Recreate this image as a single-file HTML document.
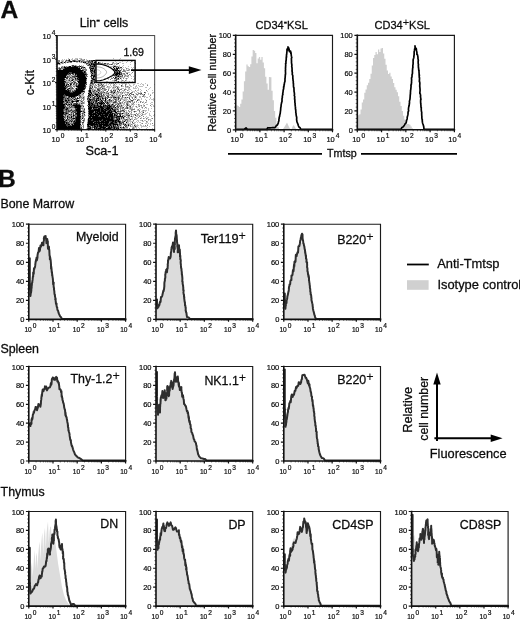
<!DOCTYPE html>
<html><head><meta charset="utf-8"><title>Figure</title>
<style>
html,body{margin:0;padding:0;background:#fff;}
body{width:520px;height:619px;overflow:hidden;}
svg{display:block;font-family:"Liberation Sans",sans-serif;}
text{fill:#0c0c0c;stroke:#0c0c0c;stroke-width:0.28px;}
.tk{stroke-width:0.2px;}
</style></head><body>
<svg width="520" height="619" viewBox="0 0 520 619">
<rect width="520" height="619" fill="#fff"/>
<g opacity="0.999">
<text x="0.4" y="17.5" font-size="24.6" font-weight="bold" fill="#000" stroke="#000" stroke-width="0.7">A</text>
<text x="-1.9" y="187.2" font-size="24.6" font-weight="bold" fill="#000" stroke="#000" stroke-width="0.7">B</text>
<text x="0.4" y="208" font-size="12.4">Bone Marrow</text>
<text x="0.4" y="353" font-size="12.4">Spleen</text>
<text x="0.6" y="495.5" font-size="12.4">Thymus</text>
<path d="M68 58h1v1h-1zM72 58h1v1h-1zM75 58h3v1h-3zM79 58h3v1h-3zM113 58h1v1h-1zM120 58h1v1h-1zM62 59h1v1h-1zM64 59h1v1h-1zM66 59h1v1h-1zM68 59h1v1h-1zM71 59h2v1h-2zM74 59h3v1h-3zM80 59h1v1h-1zM82 59h2v1h-2zM86 59h1v1h-1zM119 59h1v1h-1zM61 60h3v1h-3zM65 60h1v1h-1zM70 60h1v1h-1zM76 60h2v1h-2zM81 60h1v1h-1zM84 60h1v1h-1zM86 60h1v1h-1zM88 60h1v1h-1zM114 60h2v1h-2zM117 60h1v1h-1zM61 61h1v1h-1zM63 61h1v1h-1zM66 61h2v1h-2zM80 61h1v1h-1zM93 61h1v1h-1zM115 61h1v1h-1zM122 61h1v1h-1zM127 61h1v1h-1zM132 61h1v1h-1zM59 62h1v1h-1zM63 62h1v1h-1zM66 62h1v1h-1zM69 62h1v1h-1zM76 62h2v1h-2zM79 62h2v1h-2zM82 62h1v1h-1zM86 62h2v1h-2zM93 62h1v1h-1zM100 62h1v1h-1zM102 62h1v1h-1zM112 62h1v1h-1zM116 62h1v1h-1zM119 62h2v1h-2zM126 62h1v1h-1zM130 62h1v1h-1zM134 62h1v1h-1zM60 63h2v1h-2zM63 63h1v1h-1zM65 63h1v1h-1zM84 63h2v1h-2zM103 63h1v1h-1zM106 63h1v1h-1zM113 63h4v1h-4zM122 63h2v1h-2zM58 64h1v1h-1zM60 64h1v1h-1zM87 64h1v1h-1zM102 64h5v1h-5zM108 64h1v1h-1zM114 64h1v1h-1zM117 64h1v1h-1zM130 64h1v1h-1zM71 65h1v1h-1zM74 65h1v1h-1zM76 65h1v1h-1zM81 65h1v1h-1zM83 65h1v1h-1zM108 65h1v1h-1zM113 65h3v1h-3zM119 65h1v1h-1zM123 65h1v1h-1zM61 66h1v1h-1zM63 66h1v1h-1zM65 66h1v1h-1zM67 66h1v1h-1zM71 66h1v1h-1zM83 66h1v1h-1zM89 66h1v1h-1zM95 66h1v1h-1zM107 66h2v1h-2zM110 66h3v1h-3zM118 66h2v1h-2zM122 66h1v1h-1zM128 66h1v1h-1zM58 67h1v1h-1zM85 67h1v1h-1zM110 67h2v1h-2zM114 67h2v1h-2zM117 67h1v1h-1zM119 67h1v1h-1zM123 67h1v1h-1zM125 67h1v1h-1zM131 67h1v1h-1zM133 67h1v1h-1zM135 67h1v1h-1zM57 68h1v1h-1zM82 68h1v1h-1zM84 68h1v1h-1zM111 68h3v1h-3zM115 68h1v1h-1zM120 68h3v1h-3zM127 68h2v1h-2zM132 68h1v1h-1zM58 69h1v1h-1zM61 69h2v1h-2zM112 69h1v1h-1zM119 69h1v1h-1zM124 69h1v1h-1zM126 69h1v1h-1zM128 69h1v1h-1zM135 69h1v1h-1zM141 69h1v1h-1zM84 70h1v1h-1zM113 70h1v1h-1zM121 70h1v1h-1zM125 70h2v1h-2zM129 70h1v1h-1zM132 70h1v1h-1zM133 71h1v1h-1zM86 72h1v1h-1zM90 72h1v1h-1zM114 72h1v1h-1zM125 72h5v1h-5zM90 73h1v1h-1zM95 73h1v1h-1zM122 73h1v1h-1zM131 73h1v1h-1zM74 74h1v1h-1zM122 74h2v1h-2zM125 74h1v1h-1zM127 74h1v1h-1zM130 74h1v1h-1zM67 75h2v1h-2zM70 75h1v1h-1zM72 75h2v1h-2zM95 75h1v1h-1zM112 75h1v1h-1zM120 75h2v1h-2zM124 75h1v1h-1zM126 75h2v1h-2zM130 75h1v1h-1zM135 75h1v1h-1zM66 76h1v1h-1zM70 76h2v1h-2zM92 76h1v1h-1zM110 76h3v1h-3zM114 76h1v1h-1zM125 76h2v1h-2zM128 76h1v1h-1zM131 76h1v1h-1zM133 76h1v1h-1zM69 77h1v1h-1zM76 77h1v1h-1zM86 77h1v1h-1zM92 77h1v1h-1zM95 77h1v1h-1zM111 77h1v1h-1zM117 77h2v1h-2zM120 77h5v1h-5zM128 77h1v1h-1zM70 78h1v1h-1zM73 78h2v1h-2zM95 78h1v1h-1zM107 78h2v1h-2zM121 78h1v1h-1zM125 78h1v1h-1zM127 78h1v1h-1zM131 78h1v1h-1zM134 78h1v1h-1zM66 79h3v1h-3zM70 79h2v1h-2zM74 79h1v1h-1zM91 79h1v1h-1zM95 79h1v1h-1zM108 79h1v1h-1zM114 79h2v1h-2zM119 79h1v1h-1zM121 79h1v1h-1zM126 79h1v1h-1zM133 79h1v1h-1zM65 80h1v1h-1zM67 80h1v1h-1zM70 80h1v1h-1zM73 80h2v1h-2zM90 80h1v1h-1zM112 80h2v1h-2zM121 80h1v1h-1zM123 80h1v1h-1zM126 80h1v1h-1zM66 81h4v1h-4zM71 81h1v1h-1zM75 81h1v1h-1zM86 81h1v1h-1zM90 81h1v1h-1zM95 81h1v1h-1zM106 81h2v1h-2zM114 81h1v1h-1zM116 81h2v1h-2zM121 81h1v1h-1zM124 81h1v1h-1zM129 81h1v1h-1zM132 81h1v1h-1zM69 82h2v1h-2zM73 82h1v1h-1zM76 82h1v1h-1zM93 82h1v1h-1zM112 82h1v1h-1zM114 82h1v1h-1zM116 82h1v1h-1zM120 82h1v1h-1zM65 83h1v1h-1zM72 83h1v1h-1zM75 83h1v1h-1zM98 83h2v1h-2zM104 83h1v1h-1zM106 83h1v1h-1zM110 83h1v1h-1zM112 83h1v1h-1zM121 83h6v1h-6zM128 83h1v1h-1zM137 83h2v1h-2zM141 83h1v1h-1zM145 83h1v1h-1zM65 84h1v1h-1zM75 84h1v1h-1zM77 84h1v1h-1zM89 84h1v1h-1zM91 84h1v1h-1zM97 84h1v1h-1zM99 84h2v1h-2zM102 84h1v1h-1zM106 84h1v1h-1zM108 84h1v1h-1zM110 84h1v1h-1zM113 84h1v1h-1zM116 84h1v1h-1zM119 84h1v1h-1zM122 84h1v1h-1zM126 84h1v1h-1zM129 84h1v1h-1zM133 84h2v1h-2zM140 84h1v1h-1zM142 84h2v1h-2zM147 84h1v1h-1zM154 84h1v1h-1zM67 85h1v1h-1zM71 85h4v1h-4zM89 85h1v1h-1zM92 85h4v1h-4zM101 85h1v1h-1zM103 85h4v1h-4zM110 85h1v1h-1zM114 85h2v1h-2zM122 85h1v1h-1zM129 85h2v1h-2zM133 85h1v1h-1zM136 85h1v1h-1zM138 85h1v1h-1zM143 85h1v1h-1zM75 86h1v1h-1zM86 86h1v1h-1zM91 86h1v1h-1zM95 86h1v1h-1zM97 86h1v1h-1zM99 86h1v1h-1zM108 86h2v1h-2zM111 86h1v1h-1zM113 86h3v1h-3zM117 86h2v1h-2zM122 86h2v1h-2zM126 86h1v1h-1zM128 86h1v1h-1zM130 86h2v1h-2zM135 86h2v1h-2zM139 86h4v1h-4zM69 87h1v1h-1zM74 87h1v1h-1zM76 87h1v1h-1zM91 87h1v1h-1zM98 87h2v1h-2zM102 87h3v1h-3zM106 87h5v1h-5zM112 87h1v1h-1zM114 87h1v1h-1zM118 87h2v1h-2zM125 87h4v1h-4zM133 87h1v1h-1zM135 87h1v1h-1zM137 87h1v1h-1zM145 87h2v1h-2zM150 87h1v1h-1zM67 88h1v1h-1zM92 88h2v1h-2zM95 88h2v1h-2zM105 88h1v1h-1zM108 88h2v1h-2zM112 88h3v1h-3zM116 88h1v1h-1zM121 88h3v1h-3zM125 88h1v1h-1zM128 88h2v1h-2zM133 88h4v1h-4zM138 88h1v1h-1zM149 88h1v1h-1zM66 89h1v1h-1zM69 89h1v1h-1zM72 89h4v1h-4zM91 89h1v1h-1zM93 89h3v1h-3zM100 89h1v1h-1zM102 89h2v1h-2zM111 89h1v1h-1zM113 89h5v1h-5zM119 89h1v1h-1zM126 89h1v1h-1zM128 89h3v1h-3zM138 89h1v1h-1zM140 89h1v1h-1zM148 89h1v1h-1zM71 90h1v1h-1zM73 90h1v1h-1zM84 90h1v1h-1zM91 90h1v1h-1zM93 90h1v1h-1zM96 90h1v1h-1zM100 90h1v1h-1zM102 90h2v1h-2zM117 90h1v1h-1zM122 90h2v1h-2zM128 90h1v1h-1zM131 90h1v1h-1zM137 90h2v1h-2zM141 90h1v1h-1zM152 90h1v1h-1zM71 91h1v1h-1zM91 91h1v1h-1zM95 91h1v1h-1zM98 91h1v1h-1zM100 91h1v1h-1zM102 91h1v1h-1zM106 91h1v1h-1zM110 91h1v1h-1zM113 91h1v1h-1zM118 91h2v1h-2zM121 91h1v1h-1zM123 91h1v1h-1zM125 91h1v1h-1zM129 91h1v1h-1zM132 91h3v1h-3zM136 91h1v1h-1zM140 91h1v1h-1zM147 91h1v1h-1zM83 92h1v1h-1zM88 92h1v1h-1zM92 92h1v1h-1zM96 92h2v1h-2zM99 92h1v1h-1zM105 92h1v1h-1zM107 92h3v1h-3zM115 92h3v1h-3zM119 92h1v1h-1zM121 92h1v1h-1zM123 92h4v1h-4zM134 92h1v1h-1zM137 92h2v1h-2zM140 92h2v1h-2zM152 92h2v1h-2zM81 93h2v1h-2zM92 93h1v1h-1zM102 93h4v1h-4zM111 93h2v1h-2zM114 93h5v1h-5zM120 93h2v1h-2zM124 93h1v1h-1zM127 93h3v1h-3zM135 93h2v1h-2zM145 93h1v1h-1zM148 93h1v1h-1zM152 93h1v1h-1zM80 94h2v1h-2zM83 94h1v1h-1zM93 94h1v1h-1zM104 94h4v1h-4zM109 94h1v1h-1zM111 94h4v1h-4zM117 94h1v1h-1zM119 94h3v1h-3zM126 94h1v1h-1zM138 94h1v1h-1zM141 94h1v1h-1zM143 94h1v1h-1zM148 94h1v1h-1zM150 94h1v1h-1zM81 95h3v1h-3zM94 95h2v1h-2zM100 95h1v1h-1zM109 95h1v1h-1zM113 95h6v1h-6zM120 95h1v1h-1zM124 95h2v1h-2zM129 95h1v1h-1zM133 95h3v1h-3zM137 95h1v1h-1zM144 95h1v1h-1zM67 96h1v1h-1zM78 96h1v1h-1zM81 96h4v1h-4zM104 96h1v1h-1zM110 96h2v1h-2zM115 96h3v1h-3zM119 96h1v1h-1zM129 96h3v1h-3zM133 96h2v1h-2zM136 96h1v1h-1zM139 96h2v1h-2zM144 96h2v1h-2zM149 96h1v1h-1zM67 97h1v1h-1zM70 97h1v1h-1zM82 97h1v1h-1zM84 97h1v1h-1zM87 97h1v1h-1zM89 97h1v1h-1zM91 97h1v1h-1zM95 97h1v1h-1zM103 97h2v1h-2zM112 97h1v1h-1zM121 97h1v1h-1zM123 97h2v1h-2zM126 97h1v1h-1zM128 97h1v1h-1zM131 97h1v1h-1zM134 97h1v1h-1zM136 97h1v1h-1zM139 97h2v1h-2zM144 97h1v1h-1zM146 97h2v1h-2zM150 97h1v1h-1zM71 98h1v1h-1zM74 98h1v1h-1zM80 98h2v1h-2zM84 98h1v1h-1zM90 98h2v1h-2zM101 98h1v1h-1zM106 98h1v1h-1zM110 98h2v1h-2zM115 98h1v1h-1zM117 98h1v1h-1zM120 98h1v1h-1zM122 98h1v1h-1zM124 98h3v1h-3zM134 98h1v1h-1zM136 98h1v1h-1zM141 98h1v1h-1zM150 98h1v1h-1zM153 98h1v1h-1zM72 99h1v1h-1zM77 99h1v1h-1zM79 99h1v1h-1zM84 99h1v1h-1zM95 99h1v1h-1zM101 99h1v1h-1zM108 99h1v1h-1zM112 99h2v1h-2zM117 99h1v1h-1zM121 99h7v1h-7zM129 99h1v1h-1zM134 99h1v1h-1zM137 99h1v1h-1zM139 99h1v1h-1zM141 99h1v1h-1zM145 99h1v1h-1zM149 99h1v1h-1zM151 99h4v1h-4zM73 100h2v1h-2zM81 100h2v1h-2zM87 100h1v1h-1zM106 100h1v1h-1zM112 100h1v1h-1zM117 100h3v1h-3zM123 100h1v1h-1zM125 100h2v1h-2zM128 100h1v1h-1zM130 100h1v1h-1zM133 100h1v1h-1zM138 100h2v1h-2zM153 100h1v1h-1zM70 101h1v1h-1zM80 101h1v1h-1zM84 101h1v1h-1zM108 101h1v1h-1zM112 101h2v1h-2zM122 101h2v1h-2zM125 101h2v1h-2zM131 101h1v1h-1zM134 101h1v1h-1zM141 101h1v1h-1zM143 101h1v1h-1zM146 101h1v1h-1zM154 101h1v1h-1zM65 102h1v1h-1zM73 102h1v1h-1zM77 102h5v1h-5zM84 102h1v1h-1zM94 102h1v1h-1zM104 102h1v1h-1zM110 102h3v1h-3zM117 102h1v1h-1zM121 102h1v1h-1zM125 102h2v1h-2zM128 102h2v1h-2zM132 102h2v1h-2zM136 102h1v1h-1zM138 102h1v1h-1zM143 102h1v1h-1zM146 102h1v1h-1zM151 102h2v1h-2zM67 103h1v1h-1zM69 103h1v1h-1zM72 103h1v1h-1zM78 103h1v1h-1zM80 103h1v1h-1zM84 103h1v1h-1zM109 103h2v1h-2zM112 103h1v1h-1zM114 103h3v1h-3zM121 103h4v1h-4zM128 103h1v1h-1zM131 103h2v1h-2zM144 103h1v1h-1zM150 103h1v1h-1zM72 104h1v1h-1zM80 104h3v1h-3zM110 104h1v1h-1zM117 104h1v1h-1zM119 104h3v1h-3zM123 104h2v1h-2zM128 104h2v1h-2zM131 104h1v1h-1zM133 104h2v1h-2zM136 104h1v1h-1zM139 104h1v1h-1zM143 104h1v1h-1zM146 104h2v1h-2zM151 104h2v1h-2zM83 105h1v1h-1zM102 105h1v1h-1zM118 105h1v1h-1zM120 105h1v1h-1zM122 105h2v1h-2zM125 105h2v1h-2zM129 105h3v1h-3zM133 105h1v1h-1zM138 105h3v1h-3zM143 105h1v1h-1zM153 105h1v1h-1zM66 106h3v1h-3zM70 106h1v1h-1zM82 106h1v1h-1zM122 106h1v1h-1zM124 106h1v1h-1zM127 106h1v1h-1zM132 106h2v1h-2zM135 106h1v1h-1zM138 106h1v1h-1zM141 106h1v1h-1zM143 106h2v1h-2zM151 106h1v1h-1zM153 106h2v1h-2zM81 107h3v1h-3zM116 107h1v1h-1zM121 107h1v1h-1zM125 107h1v1h-1zM128 107h2v1h-2zM131 107h2v1h-2zM136 107h2v1h-2zM141 107h1v1h-1zM146 107h1v1h-1zM70 108h5v1h-5zM83 108h1v1h-1zM92 108h1v1h-1zM113 108h1v1h-1zM118 108h2v1h-2zM121 108h1v1h-1zM123 108h2v1h-2zM128 108h2v1h-2zM131 108h2v1h-2zM134 108h1v1h-1zM139 108h1v1h-1zM142 108h1v1h-1zM144 108h1v1h-1zM146 108h1v1h-1zM148 108h1v1h-1zM151 108h1v1h-1zM69 109h2v1h-2zM72 109h3v1h-3zM82 109h2v1h-2zM122 109h2v1h-2zM129 109h2v1h-2zM137 109h1v1h-1zM140 109h1v1h-1zM148 109h1v1h-1zM81 110h2v1h-2zM116 110h2v1h-2zM124 110h3v1h-3zM132 110h1v1h-1zM137 110h2v1h-2zM142 110h1v1h-1zM144 110h3v1h-3zM148 110h1v1h-1zM64 111h1v1h-1zM71 111h1v1h-1zM116 111h1v1h-1zM122 111h1v1h-1zM126 111h1v1h-1zM128 111h1v1h-1zM130 111h2v1h-2zM133 111h1v1h-1zM136 111h1v1h-1zM141 111h3v1h-3zM145 111h1v1h-1zM150 111h1v1h-1zM153 111h2v1h-2zM69 112h2v1h-2zM82 112h1v1h-1zM85 112h1v1h-1zM113 112h2v1h-2zM117 112h3v1h-3zM123 112h3v1h-3zM127 112h1v1h-1zM129 112h1v1h-1zM134 112h1v1h-1zM139 112h2v1h-2zM142 112h1v1h-1zM147 112h1v1h-1zM70 113h1v1h-1zM72 113h1v1h-1zM81 113h1v1h-1zM84 113h1v1h-1zM124 113h2v1h-2zM127 113h1v1h-1zM130 113h2v1h-2zM138 113h2v1h-2zM141 113h2v1h-2zM145 113h2v1h-2zM149 113h1v1h-1zM67 114h1v1h-1zM72 114h1v1h-1zM74 114h1v1h-1zM83 114h1v1h-1zM113 114h1v1h-1zM121 114h2v1h-2zM124 114h2v1h-2zM128 114h3v1h-3zM132 114h2v1h-2zM138 114h1v1h-1zM140 114h1v1h-1zM143 114h3v1h-3zM149 114h1v1h-1zM64 115h1v1h-1zM66 115h1v1h-1zM69 115h1v1h-1zM72 115h1v1h-1zM81 115h1v1h-1zM83 115h1v1h-1zM85 115h1v1h-1zM118 115h1v1h-1zM124 115h2v1h-2zM131 115h1v1h-1zM133 115h1v1h-1zM136 115h4v1h-4zM142 115h1v1h-1zM149 115h2v1h-2zM153 115h2v1h-2zM66 116h1v1h-1zM70 116h1v1h-1zM74 116h1v1h-1zM81 116h1v1h-1zM84 116h1v1h-1zM123 116h1v1h-1zM127 116h1v1h-1zM129 116h2v1h-2zM132 116h2v1h-2zM136 116h2v1h-2zM140 116h1v1h-1zM146 116h1v1h-1zM151 116h1v1h-1zM154 116h1v1h-1zM66 117h1v1h-1zM72 117h1v1h-1zM74 117h1v1h-1zM81 117h1v1h-1zM120 117h1v1h-1zM124 117h1v1h-1zM127 117h1v1h-1zM129 117h1v1h-1zM132 117h1v1h-1zM134 117h1v1h-1zM141 117h1v1h-1zM145 117h1v1h-1zM147 117h2v1h-2zM64 118h1v1h-1zM68 118h1v1h-1zM81 118h1v1h-1zM83 118h1v1h-1zM115 118h1v1h-1zM120 118h1v1h-1zM122 118h1v1h-1zM124 118h1v1h-1zM127 118h2v1h-2zM131 118h2v1h-2zM135 118h3v1h-3zM141 118h1v1h-1zM144 118h1v1h-1zM147 118h1v1h-1zM151 118h1v1h-1zM65 119h1v1h-1zM70 119h1v1h-1zM74 119h1v1h-1zM83 119h1v1h-1zM87 119h1v1h-1zM120 119h4v1h-4zM128 119h2v1h-2zM131 119h2v1h-2zM135 119h2v1h-2zM146 119h1v1h-1zM149 119h2v1h-2zM73 120h1v1h-1zM87 120h1v1h-1zM120 120h1v1h-1zM123 120h2v1h-2zM126 120h1v1h-1zM128 120h3v1h-3zM137 120h2v1h-2zM140 120h2v1h-2zM144 120h2v1h-2zM148 120h1v1h-1zM150 120h2v1h-2zM68 121h1v1h-1zM81 121h1v1h-1zM84 121h1v1h-1zM87 121h1v1h-1zM121 121h1v1h-1zM125 121h2v1h-2zM128 121h6v1h-6zM136 121h1v1h-1zM138 121h1v1h-1zM142 121h2v1h-2zM147 121h1v1h-1zM150 121h1v1h-1zM70 122h1v1h-1zM72 122h1v1h-1zM81 122h1v1h-1zM127 122h2v1h-2zM130 122h1v1h-1zM134 122h2v1h-2zM137 122h1v1h-1zM139 122h2v1h-2zM146 122h2v1h-2zM83 123h1v1h-1zM118 123h1v1h-1zM122 123h1v1h-1zM124 123h7v1h-7zM132 123h1v1h-1zM134 123h1v1h-1zM141 123h1v1h-1zM145 123h2v1h-2zM148 123h1v1h-1zM150 123h1v1h-1zM70 124h1v1h-1zM83 124h1v1h-1zM122 124h1v1h-1zM126 124h2v1h-2zM129 124h2v1h-2zM132 124h1v1h-1zM134 124h2v1h-2zM137 124h1v1h-1zM140 124h1v1h-1zM147 124h1v1h-1zM150 124h1v1h-1zM154 124h1v1h-1zM116 125h1v1h-1zM121 125h1v1h-1zM127 125h1v1h-1zM129 125h1v1h-1zM132 125h1v1h-1zM135 125h4v1h-4zM140 125h2v1h-2zM143 125h1v1h-1zM152 125h2v1h-2zM81 126h2v1h-2zM91 126h1v1h-1zM119 126h3v1h-3zM127 126h2v1h-2zM131 126h4v1h-4zM136 126h2v1h-2zM141 126h6v1h-6zM149 126h1v1h-1zM106 127h1v1h-1zM119 127h1v1h-1zM125 127h1v1h-1zM132 127h1v1h-1zM134 127h3v1h-3zM138 127h1v1h-1zM141 127h1v1h-1zM147 127h1v1h-1zM82 128h2v1h-2zM86 128h1v1h-1zM119 128h2v1h-2zM122 128h1v1h-1zM125 128h3v1h-3zM134 128h1v1h-1zM136 128h1v1h-1zM139 128h1v1h-1zM146 128h1v1h-1zM152 128h1v1h-1zM154 128h1v1h-1zM81 129h1v1h-1zM83 129h1v1h-1zM91 129h2v1h-2zM104 129h1v1h-1zM116 129h1v1h-1zM122 129h3v1h-3zM126 129h3v1h-3zM130 129h2v1h-2zM141 129h2v1h-2zM150 129h1v1h-1zM153 129h1v1h-1z" fill="#bfbfbf" shape-rendering="crispEdges"/>
<path d="M77 59h1v1h-1zM81 59h1v1h-1zM84 59h1v1h-1zM58 60h2v1h-2zM67 60h1v1h-1zM72 60h1v1h-1zM75 60h1v1h-1zM78 60h1v1h-1zM80 60h1v1h-1zM82 60h2v1h-2zM87 60h1v1h-1zM90 60h1v1h-1zM95 60h1v1h-1zM116 60h1v1h-1zM58 61h2v1h-2zM62 61h1v1h-1zM68 61h1v1h-1zM72 61h1v1h-1zM78 61h1v1h-1zM82 61h6v1h-6zM90 61h1v1h-1zM94 61h1v1h-1zM131 61h1v1h-1zM57 62h1v1h-1zM60 62h1v1h-1zM62 62h1v1h-1zM65 62h1v1h-1zM68 62h1v1h-1zM70 62h2v1h-2zM81 62h1v1h-1zM89 62h1v1h-1zM91 62h1v1h-1zM99 62h1v1h-1zM113 62h1v1h-1zM62 63h1v1h-1zM88 63h3v1h-3zM95 63h1v1h-1zM97 63h1v1h-1zM99 63h4v1h-4zM107 63h2v1h-2zM112 63h1v1h-1zM117 63h1v1h-1zM135 63h1v1h-1zM57 64h1v1h-1zM59 64h1v1h-1zM86 64h1v1h-1zM88 64h1v1h-1zM90 64h1v1h-1zM95 64h1v1h-1zM107 64h1v1h-1zM109 64h2v1h-2zM112 64h1v1h-1zM116 64h1v1h-1zM75 65h1v1h-1zM79 65h1v1h-1zM87 65h1v1h-1zM89 65h1v1h-1zM91 65h2v1h-2zM95 65h1v1h-1zM62 66h1v1h-1zM66 66h1v1h-1zM68 66h1v1h-1zM81 66h2v1h-2zM113 66h1v1h-1zM116 66h2v1h-2zM59 67h1v1h-1zM62 67h2v1h-2zM78 67h1v1h-1zM91 67h2v1h-2zM94 67h2v1h-2zM58 68h1v1h-1zM61 68h3v1h-3zM80 68h1v1h-1zM83 68h1v1h-1zM85 68h1v1h-1zM89 68h1v1h-1zM94 68h2v1h-2zM119 68h1v1h-1zM126 68h1v1h-1zM82 69h5v1h-5zM91 69h1v1h-1zM93 69h1v1h-1zM95 69h1v1h-1zM121 69h1v1h-1zM123 69h1v1h-1zM129 69h1v1h-1zM85 70h2v1h-2zM93 70h1v1h-1zM95 70h1v1h-1zM114 70h1v1h-1zM119 70h1v1h-1zM123 70h2v1h-2zM127 70h2v1h-2zM83 71h1v1h-1zM114 71h2v1h-2zM118 71h1v1h-1zM120 71h1v1h-1zM122 71h4v1h-4zM92 72h2v1h-2zM95 72h1v1h-1zM118 72h1v1h-1zM121 72h1v1h-1zM132 72h1v1h-1zM74 73h1v1h-1zM86 73h1v1h-1zM91 73h1v1h-1zM93 73h1v1h-1zM120 73h1v1h-1zM123 73h2v1h-2zM126 73h1v1h-1zM69 74h1v1h-1zM72 74h1v1h-1zM87 74h1v1h-1zM92 74h2v1h-2zM95 74h1v1h-1zM114 74h1v1h-1zM118 74h1v1h-1zM124 74h1v1h-1zM129 74h1v1h-1zM69 75h1v1h-1zM71 75h1v1h-1zM74 75h1v1h-1zM76 75h1v1h-1zM85 75h1v1h-1zM117 75h1v1h-1zM119 75h1v1h-1zM125 75h1v1h-1zM128 75h1v1h-1zM68 76h2v1h-2zM86 76h2v1h-2zM90 76h1v1h-1zM95 76h1v1h-1zM115 76h2v1h-2zM119 76h1v1h-1zM121 76h2v1h-2zM124 76h1v1h-1zM127 76h1v1h-1zM68 77h1v1h-1zM71 77h3v1h-3zM75 77h1v1h-1zM94 77h1v1h-1zM119 77h1v1h-1zM71 78h2v1h-2zM76 78h1v1h-1zM94 78h1v1h-1zM111 78h2v1h-2zM116 78h2v1h-2zM123 78h1v1h-1zM126 78h1v1h-1zM65 79h1v1h-1zM69 79h1v1h-1zM76 79h1v1h-1zM86 79h1v1h-1zM110 79h1v1h-1zM117 79h2v1h-2zM64 80h1v1h-1zM66 80h1v1h-1zM68 80h1v1h-1zM75 80h4v1h-4zM86 80h1v1h-1zM93 80h1v1h-1zM95 80h1v1h-1zM114 80h1v1h-1zM122 80h1v1h-1zM125 80h1v1h-1zM70 81h1v1h-1zM74 81h1v1h-1zM93 81h1v1h-1zM66 82h3v1h-3zM71 82h1v1h-1zM90 82h1v1h-1zM66 83h2v1h-2zM69 83h1v1h-1zM73 83h1v1h-1zM77 83h2v1h-2zM86 83h1v1h-1zM93 83h2v1h-2zM100 83h2v1h-2zM109 83h1v1h-1zM111 83h1v1h-1zM113 83h1v1h-1zM115 83h1v1h-1zM74 84h1v1h-1zM85 84h1v1h-1zM90 84h1v1h-1zM92 84h2v1h-2zM95 84h1v1h-1zM103 84h1v1h-1zM114 84h1v1h-1zM125 84h1v1h-1zM65 85h1v1h-1zM68 85h2v1h-2zM75 85h1v1h-1zM77 85h1v1h-1zM91 85h1v1h-1zM96 85h1v1h-1zM98 85h3v1h-3zM113 85h1v1h-1zM125 85h1v1h-1zM147 85h1v1h-1zM66 86h1v1h-1zM69 86h3v1h-3zM73 86h2v1h-2zM89 86h2v1h-2zM94 86h1v1h-1zM98 86h1v1h-1zM101 86h4v1h-4zM107 86h1v1h-1zM116 86h1v1h-1zM121 86h1v1h-1zM125 86h1v1h-1zM127 86h1v1h-1zM67 87h1v1h-1zM70 87h3v1h-3zM89 87h1v1h-1zM94 87h3v1h-3zM100 87h2v1h-2zM113 87h1v1h-1zM115 87h1v1h-1zM129 87h1v1h-1zM66 88h1v1h-1zM70 88h2v1h-2zM73 88h1v1h-1zM75 88h1v1h-1zM85 88h1v1h-1zM97 88h4v1h-4zM103 88h2v1h-2zM117 88h2v1h-2zM70 89h2v1h-2zM90 89h1v1h-1zM92 89h1v1h-1zM99 89h1v1h-1zM101 89h1v1h-1zM104 89h3v1h-3zM108 89h1v1h-1zM120 89h2v1h-2zM124 89h2v1h-2zM72 90h1v1h-1zM83 90h1v1h-1zM88 90h1v1h-1zM92 90h1v1h-1zM95 90h1v1h-1zM97 90h1v1h-1zM104 90h2v1h-2zM108 90h1v1h-1zM110 90h2v1h-2zM114 90h1v1h-1zM124 90h1v1h-1zM127 90h1v1h-1zM135 90h1v1h-1zM146 90h1v1h-1zM88 91h1v1h-1zM92 91h1v1h-1zM94 91h1v1h-1zM97 91h1v1h-1zM99 91h1v1h-1zM101 91h1v1h-1zM103 91h1v1h-1zM112 91h1v1h-1zM114 91h2v1h-2zM82 92h1v1h-1zM84 92h1v1h-1zM93 92h3v1h-3zM100 92h4v1h-4zM106 92h1v1h-1zM110 92h1v1h-1zM112 92h2v1h-2zM118 92h1v1h-1zM120 92h1v1h-1zM122 92h1v1h-1zM127 92h2v1h-2zM131 92h2v1h-2zM145 92h1v1h-1zM90 93h1v1h-1zM93 93h2v1h-2zM96 93h3v1h-3zM100 93h1v1h-1zM106 93h2v1h-2zM122 93h1v1h-1zM131 93h1v1h-1zM138 93h3v1h-3zM82 94h1v1h-1zM88 94h1v1h-1zM91 94h1v1h-1zM94 94h1v1h-1zM98 94h3v1h-3zM108 94h1v1h-1zM110 94h1v1h-1zM116 94h1v1h-1zM125 94h1v1h-1zM127 94h1v1h-1zM131 94h2v1h-2zM136 94h2v1h-2zM140 94h1v1h-1zM142 94h1v1h-1zM78 95h1v1h-1zM80 95h1v1h-1zM91 95h1v1h-1zM102 95h3v1h-3zM106 95h3v1h-3zM111 95h1v1h-1zM119 95h1v1h-1zM123 95h1v1h-1zM126 95h1v1h-1zM128 95h1v1h-1zM130 95h1v1h-1zM143 95h1v1h-1zM150 95h1v1h-1zM65 96h2v1h-2zM76 96h1v1h-1zM79 96h1v1h-1zM87 96h1v1h-1zM90 96h3v1h-3zM96 96h1v1h-1zM98 96h1v1h-1zM102 96h2v1h-2zM105 96h1v1h-1zM112 96h3v1h-3zM118 96h1v1h-1zM120 96h1v1h-1zM135 96h1v1h-1zM142 96h2v1h-2zM65 97h2v1h-2zM72 97h1v1h-1zM75 97h1v1h-1zM80 97h2v1h-2zM92 97h1v1h-1zM96 97h2v1h-2zM99 97h3v1h-3zM106 97h2v1h-2zM109 97h2v1h-2zM116 97h2v1h-2zM119 97h1v1h-1zM122 97h1v1h-1zM129 97h1v1h-1zM132 97h1v1h-1zM64 98h1v1h-1zM66 98h1v1h-1zM69 98h2v1h-2zM73 98h1v1h-1zM76 98h1v1h-1zM79 98h1v1h-1zM82 98h2v1h-2zM92 98h1v1h-1zM95 98h1v1h-1zM99 98h1v1h-1zM104 98h1v1h-1zM113 98h2v1h-2zM116 98h1v1h-1zM119 98h1v1h-1zM121 98h1v1h-1zM132 98h1v1h-1zM64 99h1v1h-1zM66 99h2v1h-2zM69 99h2v1h-2zM73 99h1v1h-1zM75 99h1v1h-1zM81 99h1v1h-1zM83 99h1v1h-1zM88 99h1v1h-1zM97 99h1v1h-1zM99 99h1v1h-1zM102 99h2v1h-2zM106 99h1v1h-1zM110 99h1v1h-1zM114 99h1v1h-1zM116 99h1v1h-1zM120 99h1v1h-1zM130 99h1v1h-1zM133 99h1v1h-1zM135 99h1v1h-1zM138 99h1v1h-1zM63 100h2v1h-2zM67 100h1v1h-1zM70 100h2v1h-2zM75 100h1v1h-1zM79 100h2v1h-2zM83 100h1v1h-1zM91 100h1v1h-1zM93 100h1v1h-1zM99 100h2v1h-2zM102 100h3v1h-3zM107 100h2v1h-2zM110 100h1v1h-1zM113 100h1v1h-1zM115 100h2v1h-2zM124 100h1v1h-1zM146 100h1v1h-1zM64 101h1v1h-1zM68 101h2v1h-2zM82 101h1v1h-1zM87 101h1v1h-1zM90 101h1v1h-1zM92 101h1v1h-1zM94 101h1v1h-1zM97 101h1v1h-1zM99 101h1v1h-1zM104 101h1v1h-1zM106 101h2v1h-2zM109 101h3v1h-3zM114 101h1v1h-1zM116 101h1v1h-1zM118 101h2v1h-2zM127 101h2v1h-2zM130 101h1v1h-1zM132 101h1v1h-1zM136 101h1v1h-1zM140 101h1v1h-1zM64 102h1v1h-1zM68 102h1v1h-1zM70 102h2v1h-2zM82 102h2v1h-2zM92 102h1v1h-1zM97 102h1v1h-1zM106 102h1v1h-1zM108 102h2v1h-2zM116 102h1v1h-1zM119 102h2v1h-2zM122 102h1v1h-1zM124 102h1v1h-1zM127 102h1v1h-1zM130 102h1v1h-1zM134 102h1v1h-1zM140 102h1v1h-1zM142 102h1v1h-1zM145 102h1v1h-1zM63 103h2v1h-2zM68 103h1v1h-1zM70 103h1v1h-1zM73 103h1v1h-1zM79 103h1v1h-1zM82 103h2v1h-2zM93 103h2v1h-2zM98 103h1v1h-1zM113 103h1v1h-1zM117 103h3v1h-3zM126 103h2v1h-2zM133 103h1v1h-1zM65 104h1v1h-1zM67 104h1v1h-1zM70 104h1v1h-1zM95 104h2v1h-2zM98 104h2v1h-2zM102 104h1v1h-1zM104 104h2v1h-2zM108 104h1v1h-1zM111 104h1v1h-1zM113 104h1v1h-1zM115 104h2v1h-2zM126 104h1v1h-1zM132 104h1v1h-1zM138 104h1v1h-1zM65 105h1v1h-1zM68 105h4v1h-4zM81 105h2v1h-2zM87 105h2v1h-2zM99 105h1v1h-1zM101 105h1v1h-1zM110 105h1v1h-1zM112 105h2v1h-2zM115 105h1v1h-1zM119 105h1v1h-1zM128 105h1v1h-1zM141 105h1v1h-1zM144 105h1v1h-1zM150 105h1v1h-1zM72 106h2v1h-2zM81 106h1v1h-1zM112 106h1v1h-1zM116 106h1v1h-1zM118 106h4v1h-4zM126 106h1v1h-1zM129 106h1v1h-1zM136 106h1v1h-1zM139 106h1v1h-1zM65 107h1v1h-1zM67 107h3v1h-3zM71 107h3v1h-3zM112 107h1v1h-1zM114 107h1v1h-1zM117 107h1v1h-1zM120 107h1v1h-1zM122 107h1v1h-1zM126 107h1v1h-1zM130 107h1v1h-1zM142 107h1v1h-1zM145 107h1v1h-1zM65 108h1v1h-1zM68 108h2v1h-2zM81 108h2v1h-2zM84 108h1v1h-1zM97 108h1v1h-1zM104 108h1v1h-1zM114 108h4v1h-4zM120 108h1v1h-1zM122 108h1v1h-1zM125 108h2v1h-2zM130 108h1v1h-1zM64 109h1v1h-1zM68 109h1v1h-1zM111 109h1v1h-1zM116 109h1v1h-1zM118 109h1v1h-1zM120 109h1v1h-1zM124 109h1v1h-1zM131 109h4v1h-4zM138 109h1v1h-1zM64 110h2v1h-2zM67 110h1v1h-1zM69 110h1v1h-1zM72 110h2v1h-2zM83 110h2v1h-2zM88 110h1v1h-1zM112 110h1v1h-1zM118 110h1v1h-1zM120 110h2v1h-2zM128 110h1v1h-1zM131 110h1v1h-1zM139 110h1v1h-1zM143 110h1v1h-1zM65 111h1v1h-1zM67 111h1v1h-1zM70 111h1v1h-1zM74 111h1v1h-1zM82 111h1v1h-1zM84 111h1v1h-1zM94 111h1v1h-1zM106 111h1v1h-1zM119 111h1v1h-1zM121 111h1v1h-1zM123 111h1v1h-1zM129 111h1v1h-1zM135 111h1v1h-1zM139 111h1v1h-1zM67 112h2v1h-2zM72 112h2v1h-2zM76 112h1v1h-1zM83 112h1v1h-1zM88 112h1v1h-1zM94 112h1v1h-1zM112 112h1v1h-1zM120 112h1v1h-1zM126 112h1v1h-1zM131 112h1v1h-1zM64 113h1v1h-1zM68 113h1v1h-1zM71 113h1v1h-1zM80 113h1v1h-1zM83 113h1v1h-1zM115 113h1v1h-1zM121 113h1v1h-1zM123 113h1v1h-1zM126 113h1v1h-1zM136 113h1v1h-1zM66 114h1v1h-1zM68 114h1v1h-1zM70 114h1v1h-1zM82 114h1v1h-1zM88 114h1v1h-1zM116 114h1v1h-1zM126 114h2v1h-2zM131 114h1v1h-1zM134 114h2v1h-2zM137 114h1v1h-1zM142 114h1v1h-1zM154 114h1v1h-1zM63 115h1v1h-1zM67 115h2v1h-2zM70 115h2v1h-2zM75 115h2v1h-2zM80 115h1v1h-1zM84 115h1v1h-1zM89 115h1v1h-1zM94 115h1v1h-1zM99 115h1v1h-1zM113 115h1v1h-1zM117 115h1v1h-1zM119 115h1v1h-1zM122 115h2v1h-2zM126 115h2v1h-2zM141 115h1v1h-1zM64 116h2v1h-2zM68 116h2v1h-2zM72 116h1v1h-1zM82 116h2v1h-2zM88 116h1v1h-1zM107 116h1v1h-1zM115 116h1v1h-1zM125 116h1v1h-1zM128 116h1v1h-1zM139 116h1v1h-1zM143 116h1v1h-1zM65 117h1v1h-1zM68 117h1v1h-1zM70 117h1v1h-1zM73 117h1v1h-1zM82 117h2v1h-2zM88 117h1v1h-1zM91 117h1v1h-1zM122 117h1v1h-1zM126 117h1v1h-1zM128 117h1v1h-1zM135 117h1v1h-1zM138 117h1v1h-1zM65 118h1v1h-1zM69 118h3v1h-3zM84 118h1v1h-1zM114 118h1v1h-1zM129 118h1v1h-1zM140 118h1v1h-1zM143 118h1v1h-1zM146 118h1v1h-1zM152 118h1v1h-1zM67 119h1v1h-1zM69 119h1v1h-1zM72 119h2v1h-2zM80 119h2v1h-2zM84 119h1v1h-1zM114 119h2v1h-2zM124 119h2v1h-2zM127 119h1v1h-1zM134 119h1v1h-1zM148 119h1v1h-1zM64 120h1v1h-1zM67 120h3v1h-3zM71 120h1v1h-1zM82 120h1v1h-1zM84 120h1v1h-1zM119 120h1v1h-1zM122 120h1v1h-1zM127 120h1v1h-1zM133 120h1v1h-1zM142 120h1v1h-1zM66 121h2v1h-2zM70 121h1v1h-1zM72 121h1v1h-1zM83 121h1v1h-1zM100 121h1v1h-1zM122 121h2v1h-2zM127 121h1v1h-1zM146 121h1v1h-1zM69 122h1v1h-1zM71 122h1v1h-1zM87 122h1v1h-1zM93 122h1v1h-1zM109 122h1v1h-1zM117 122h2v1h-2zM121 122h1v1h-1zM65 123h1v1h-1zM69 123h4v1h-4zM80 123h1v1h-1zM82 123h1v1h-1zM87 123h1v1h-1zM117 123h1v1h-1zM133 123h1v1h-1zM142 123h1v1h-1zM152 123h1v1h-1zM73 124h1v1h-1zM82 124h1v1h-1zM118 124h1v1h-1zM120 124h2v1h-2zM124 124h1v1h-1zM131 124h1v1h-1zM71 125h1v1h-1zM80 125h2v1h-2zM83 125h1v1h-1zM89 125h1v1h-1zM102 125h1v1h-1zM112 125h1v1h-1zM114 125h1v1h-1zM118 125h2v1h-2zM125 125h1v1h-1zM130 125h1v1h-1zM145 125h1v1h-1zM147 125h1v1h-1zM80 126h1v1h-1zM83 126h1v1h-1zM93 126h1v1h-1zM110 126h1v1h-1zM112 126h1v1h-1zM116 126h2v1h-2zM123 126h1v1h-1zM126 126h1v1h-1zM130 126h1v1h-1zM80 127h1v1h-1zM83 127h1v1h-1zM87 127h1v1h-1zM91 127h1v1h-1zM98 127h1v1h-1zM107 127h1v1h-1zM121 127h2v1h-2zM124 127h1v1h-1zM126 127h2v1h-2zM133 127h1v1h-1zM91 128h2v1h-2zM112 128h1v1h-1zM115 128h1v1h-1zM121 128h1v1h-1zM123 128h2v1h-2zM129 128h1v1h-1zM132 128h2v1h-2zM102 129h1v1h-1zM107 129h2v1h-2zM111 129h1v1h-1zM114 129h1v1h-1zM119 129h1v1h-1zM121 129h1v1h-1zM125 129h1v1h-1z" fill="#808080" shape-rendering="crispEdges"/>
<path d="M69 59h1v1h-1zM66 60h1v1h-1zM68 60h1v1h-1zM73 60h2v1h-2zM79 60h1v1h-1zM89 60h1v1h-1zM91 60h2v1h-2zM65 61h1v1h-1zM69 61h1v1h-1zM73 61h1v1h-1zM75 61h3v1h-3zM81 61h1v1h-1zM88 61h2v1h-2zM91 61h1v1h-1zM95 61h1v1h-1zM58 62h1v1h-1zM67 62h1v1h-1zM84 62h1v1h-1zM88 62h1v1h-1zM90 62h1v1h-1zM92 62h1v1h-1zM86 63h2v1h-2zM92 63h3v1h-3zM98 63h1v1h-1zM104 63h2v1h-2zM118 63h1v1h-1zM92 64h1v1h-1zM111 64h1v1h-1zM72 65h2v1h-2zM88 65h1v1h-1zM93 65h1v1h-1zM64 66h1v1h-1zM72 66h2v1h-2zM76 66h4v1h-4zM90 66h2v1h-2zM93 66h1v1h-1zM115 66h1v1h-1zM61 67h1v1h-1zM66 67h1v1h-1zM79 67h1v1h-1zM81 67h3v1h-3zM89 67h2v1h-2zM93 67h1v1h-1zM116 67h1v1h-1zM120 67h2v1h-2zM59 68h2v1h-2zM64 68h1v1h-1zM90 68h1v1h-1zM118 68h1v1h-1zM57 69h1v1h-1zM59 69h2v1h-2zM80 69h1v1h-1zM92 69h1v1h-1zM94 69h1v1h-1zM114 69h3v1h-3zM83 70h1v1h-1zM90 70h1v1h-1zM117 70h1v1h-1zM120 70h1v1h-1zM82 71h1v1h-1zM85 71h1v1h-1zM90 71h4v1h-4zM116 71h2v1h-2zM69 72h3v1h-3zM83 72h1v1h-1zM85 72h1v1h-1zM115 72h2v1h-2zM120 72h1v1h-1zM68 73h1v1h-1zM70 73h2v1h-2zM73 73h1v1h-1zM84 73h2v1h-2zM94 73h1v1h-1zM114 73h2v1h-2zM121 73h1v1h-1zM127 73h1v1h-1zM67 74h2v1h-2zM70 74h1v1h-1zM73 74h1v1h-1zM76 74h1v1h-1zM86 74h1v1h-1zM91 74h1v1h-1zM94 74h1v1h-1zM113 74h1v1h-1zM120 74h2v1h-2zM66 75h1v1h-1zM75 75h1v1h-1zM86 75h1v1h-1zM93 75h1v1h-1zM113 75h3v1h-3zM118 75h1v1h-1zM122 75h1v1h-1zM67 76h1v1h-1zM72 76h4v1h-4zM85 76h1v1h-1zM91 76h1v1h-1zM117 76h1v1h-1zM120 76h1v1h-1zM66 77h2v1h-2zM70 77h1v1h-1zM74 77h1v1h-1zM77 77h1v1h-1zM91 77h1v1h-1zM113 77h1v1h-1zM116 77h1v1h-1zM64 78h1v1h-1zM66 78h2v1h-2zM69 78h1v1h-1zM78 78h1v1h-1zM91 78h1v1h-1zM93 78h1v1h-1zM114 78h2v1h-2zM120 78h1v1h-1zM72 79h2v1h-2zM75 79h1v1h-1zM77 79h1v1h-1zM92 79h1v1h-1zM116 79h1v1h-1zM69 80h1v1h-1zM71 80h1v1h-1zM92 80h1v1h-1zM94 80h1v1h-1zM115 80h2v1h-2zM65 81h1v1h-1zM73 81h1v1h-1zM77 81h1v1h-1zM91 81h2v1h-2zM94 81h1v1h-1zM118 81h1v1h-1zM64 82h2v1h-2zM72 82h1v1h-1zM74 82h2v1h-2zM86 82h1v1h-1zM92 82h1v1h-1zM95 82h1v1h-1zM70 83h2v1h-2zM74 83h1v1h-1zM76 83h1v1h-1zM90 83h3v1h-3zM66 84h2v1h-2zM71 84h1v1h-1zM73 84h1v1h-1zM76 84h1v1h-1zM78 84h1v1h-1zM86 84h1v1h-1zM98 84h1v1h-1zM101 84h1v1h-1zM70 85h1v1h-1zM76 85h1v1h-1zM85 85h1v1h-1zM90 85h1v1h-1zM102 85h1v1h-1zM121 85h1v1h-1zM64 86h1v1h-1zM67 86h2v1h-2zM85 86h1v1h-1zM92 86h1v1h-1zM65 87h2v1h-2zM77 87h1v1h-1zM84 87h2v1h-2zM90 87h1v1h-1zM92 87h1v1h-1zM117 87h1v1h-1zM68 88h1v1h-1zM72 88h1v1h-1zM77 88h1v1h-1zM89 88h3v1h-3zM102 88h1v1h-1zM65 89h1v1h-1zM68 89h1v1h-1zM84 89h1v1h-1zM89 89h1v1h-1zM97 89h2v1h-2zM118 89h1v1h-1zM67 90h1v1h-1zM69 90h2v1h-2zM74 90h2v1h-2zM94 90h1v1h-1zM98 90h2v1h-2zM113 90h1v1h-1zM115 90h1v1h-1zM119 90h1v1h-1zM69 91h2v1h-2zM72 91h3v1h-3zM84 91h1v1h-1zM93 91h1v1h-1zM96 91h1v1h-1zM107 91h1v1h-1zM111 91h1v1h-1zM117 91h1v1h-1zM70 92h3v1h-3zM81 92h1v1h-1zM89 92h1v1h-1zM91 92h1v1h-1zM104 92h1v1h-1zM111 92h1v1h-1zM144 92h1v1h-1zM83 93h1v1h-1zM89 93h1v1h-1zM95 93h1v1h-1zM99 93h1v1h-1zM101 93h1v1h-1zM108 93h1v1h-1zM113 93h1v1h-1zM130 93h1v1h-1zM141 93h1v1h-1zM64 94h1v1h-1zM79 94h1v1h-1zM92 94h1v1h-1zM101 94h1v1h-1zM103 94h1v1h-1zM129 94h1v1h-1zM133 94h1v1h-1zM144 94h1v1h-1zM63 95h3v1h-3zM79 95h1v1h-1zM89 95h1v1h-1zM92 95h1v1h-1zM97 95h3v1h-3zM101 95h1v1h-1zM112 95h1v1h-1zM122 95h1v1h-1zM63 96h2v1h-2zM68 96h1v1h-1zM75 96h1v1h-1zM80 96h1v1h-1zM88 96h2v1h-2zM94 96h2v1h-2zM100 96h2v1h-2zM107 96h2v1h-2zM122 96h1v1h-1zM64 97h1v1h-1zM68 97h2v1h-2zM73 97h2v1h-2zM77 97h1v1h-1zM79 97h1v1h-1zM83 97h1v1h-1zM88 97h1v1h-1zM93 97h2v1h-2zM102 97h1v1h-1zM105 97h1v1h-1zM108 97h1v1h-1zM111 97h1v1h-1zM113 97h2v1h-2zM118 97h1v1h-1zM125 97h1v1h-1zM127 97h1v1h-1zM135 97h1v1h-1zM63 98h1v1h-1zM65 98h1v1h-1zM68 98h1v1h-1zM72 98h1v1h-1zM75 98h1v1h-1zM78 98h1v1h-1zM87 98h3v1h-3zM93 98h2v1h-2zM96 98h1v1h-1zM100 98h1v1h-1zM103 98h1v1h-1zM107 98h1v1h-1zM118 98h1v1h-1zM129 98h1v1h-1zM63 99h1v1h-1zM65 99h1v1h-1zM68 99h1v1h-1zM71 99h1v1h-1zM76 99h1v1h-1zM87 99h1v1h-1zM91 99h4v1h-4zM98 99h1v1h-1zM115 99h1v1h-1zM118 99h1v1h-1zM69 100h1v1h-1zM72 100h1v1h-1zM76 100h1v1h-1zM88 100h2v1h-2zM92 100h1v1h-1zM94 100h2v1h-2zM97 100h1v1h-1zM109 100h1v1h-1zM111 100h1v1h-1zM120 100h1v1h-1zM131 100h2v1h-2zM137 100h1v1h-1zM65 101h3v1h-3zM71 101h1v1h-1zM74 101h2v1h-2zM78 101h1v1h-1zM81 101h1v1h-1zM91 101h1v1h-1zM93 101h1v1h-1zM95 101h1v1h-1zM100 101h2v1h-2zM105 101h1v1h-1zM115 101h1v1h-1zM129 101h1v1h-1zM63 102h1v1h-1zM66 102h1v1h-1zM69 102h1v1h-1zM76 102h1v1h-1zM90 102h2v1h-2zM95 102h2v1h-2zM99 102h2v1h-2zM102 102h1v1h-1zM105 102h1v1h-1zM113 102h3v1h-3zM65 103h2v1h-2zM71 103h1v1h-1zM74 103h4v1h-4zM81 103h1v1h-1zM88 103h1v1h-1zM90 103h1v1h-1zM95 103h2v1h-2zM103 103h1v1h-1zM106 103h3v1h-3zM120 103h1v1h-1zM68 104h1v1h-1zM73 104h3v1h-3zM77 104h3v1h-3zM90 104h2v1h-2zM93 104h2v1h-2zM100 104h1v1h-1zM103 104h1v1h-1zM107 104h1v1h-1zM109 104h1v1h-1zM118 104h1v1h-1zM127 104h1v1h-1zM64 105h1v1h-1zM67 105h1v1h-1zM72 105h1v1h-1zM80 105h1v1h-1zM90 105h1v1h-1zM92 105h2v1h-2zM95 105h2v1h-2zM98 105h1v1h-1zM104 105h1v1h-1zM106 105h2v1h-2zM111 105h1v1h-1zM114 105h1v1h-1zM117 105h1v1h-1zM121 105h1v1h-1zM127 105h1v1h-1zM64 106h2v1h-2zM69 106h1v1h-1zM71 106h1v1h-1zM74 106h1v1h-1zM83 106h1v1h-1zM89 106h1v1h-1zM91 106h3v1h-3zM95 106h3v1h-3zM102 106h1v1h-1zM104 106h3v1h-3zM108 106h1v1h-1zM111 106h1v1h-1zM113 106h2v1h-2zM117 106h1v1h-1zM130 106h1v1h-1zM66 107h1v1h-1zM70 107h1v1h-1zM74 107h1v1h-1zM80 107h1v1h-1zM88 107h1v1h-1zM92 107h1v1h-1zM98 107h2v1h-2zM103 107h4v1h-4zM110 107h2v1h-2zM113 107h1v1h-1zM118 107h1v1h-1zM123 107h1v1h-1zM127 107h1v1h-1zM64 108h1v1h-1zM66 108h1v1h-1zM75 108h2v1h-2zM80 108h1v1h-1zM94 108h3v1h-3zM100 108h1v1h-1zM105 108h1v1h-1zM110 108h1v1h-1zM127 108h1v1h-1zM63 109h1v1h-1zM65 109h1v1h-1zM67 109h1v1h-1zM71 109h1v1h-1zM75 109h1v1h-1zM80 109h1v1h-1zM84 109h1v1h-1zM88 109h1v1h-1zM91 109h3v1h-3zM100 109h1v1h-1zM103 109h1v1h-1zM106 109h1v1h-1zM109 109h1v1h-1zM113 109h3v1h-3zM117 109h1v1h-1zM63 110h1v1h-1zM66 110h1v1h-1zM68 110h1v1h-1zM70 110h2v1h-2zM74 110h2v1h-2zM80 110h1v1h-1zM100 110h1v1h-1zM104 110h1v1h-1zM107 110h2v1h-2zM111 110h1v1h-1zM113 110h1v1h-1zM115 110h1v1h-1zM122 110h2v1h-2zM63 111h1v1h-1zM66 111h1v1h-1zM68 111h2v1h-2zM72 111h2v1h-2zM75 111h2v1h-2zM83 111h1v1h-1zM88 111h1v1h-1zM96 111h1v1h-1zM100 111h1v1h-1zM107 111h1v1h-1zM110 111h1v1h-1zM112 111h2v1h-2zM117 111h2v1h-2zM120 111h1v1h-1zM124 111h1v1h-1zM134 111h1v1h-1zM64 112h3v1h-3zM71 112h1v1h-1zM74 112h2v1h-2zM80 112h1v1h-1zM93 112h1v1h-1zM98 112h1v1h-1zM102 112h1v1h-1zM106 112h1v1h-1zM143 112h1v1h-1zM65 113h1v1h-1zM67 113h1v1h-1zM73 113h1v1h-1zM75 113h1v1h-1zM82 113h1v1h-1zM88 113h1v1h-1zM92 113h1v1h-1zM96 113h1v1h-1zM109 113h1v1h-1zM111 113h1v1h-1zM113 113h2v1h-2zM116 113h5v1h-5zM128 113h1v1h-1zM63 114h3v1h-3zM71 114h1v1h-1zM73 114h1v1h-1zM75 114h2v1h-2zM80 114h1v1h-1zM84 114h1v1h-1zM97 114h1v1h-1zM101 114h1v1h-1zM103 114h2v1h-2zM108 114h1v1h-1zM115 114h1v1h-1zM117 114h1v1h-1zM119 114h2v1h-2zM65 115h1v1h-1zM74 115h1v1h-1zM82 115h1v1h-1zM88 115h1v1h-1zM92 115h1v1h-1zM108 115h1v1h-1zM115 115h1v1h-1zM128 115h2v1h-2zM135 115h1v1h-1zM73 116h1v1h-1zM75 116h2v1h-2zM98 116h3v1h-3zM104 116h1v1h-1zM113 116h2v1h-2zM116 116h1v1h-1zM121 116h1v1h-1zM124 116h1v1h-1zM131 116h1v1h-1zM63 117h2v1h-2zM67 117h1v1h-1zM69 117h1v1h-1zM75 117h1v1h-1zM80 117h1v1h-1zM105 117h1v1h-1zM107 117h1v1h-1zM110 117h1v1h-1zM113 117h3v1h-3zM117 117h3v1h-3zM121 117h1v1h-1zM72 118h1v1h-1zM75 118h1v1h-1zM80 118h1v1h-1zM110 118h1v1h-1zM113 118h1v1h-1zM116 118h3v1h-3zM121 118h1v1h-1zM123 118h1v1h-1zM64 119h1v1h-1zM66 119h1v1h-1zM68 119h1v1h-1zM71 119h1v1h-1zM75 119h1v1h-1zM89 119h1v1h-1zM92 119h1v1h-1zM102 119h1v1h-1zM113 119h1v1h-1zM116 119h1v1h-1zM118 119h1v1h-1zM126 119h1v1h-1zM130 119h1v1h-1zM65 120h1v1h-1zM70 120h1v1h-1zM72 120h1v1h-1zM74 120h2v1h-2zM80 120h1v1h-1zM83 120h1v1h-1zM91 120h2v1h-2zM99 120h1v1h-1zM101 120h2v1h-2zM106 120h1v1h-1zM114 120h1v1h-1zM117 120h1v1h-1zM125 120h1v1h-1zM65 121h1v1h-1zM69 121h1v1h-1zM73 121h1v1h-1zM75 121h1v1h-1zM80 121h1v1h-1zM94 121h2v1h-2zM97 121h1v1h-1zM99 121h1v1h-1zM104 121h1v1h-1zM109 121h3v1h-3zM114 121h1v1h-1zM116 121h2v1h-2zM120 121h1v1h-1zM65 122h1v1h-1zM67 122h2v1h-2zM73 122h2v1h-2zM80 122h1v1h-1zM82 122h2v1h-2zM110 122h1v1h-1zM113 122h2v1h-2zM120 122h1v1h-1zM122 122h2v1h-2zM132 122h1v1h-1zM67 123h2v1h-2zM73 123h1v1h-1zM95 123h1v1h-1zM97 123h1v1h-1zM100 123h1v1h-1zM102 123h1v1h-1zM104 123h1v1h-1zM108 123h2v1h-2zM114 123h3v1h-3zM119 123h3v1h-3zM123 123h1v1h-1zM66 124h2v1h-2zM71 124h1v1h-1zM98 124h1v1h-1zM108 124h1v1h-1zM111 124h2v1h-2zM119 124h1v1h-1zM123 124h1v1h-1zM128 124h1v1h-1zM66 125h5v1h-5zM87 125h1v1h-1zM90 125h1v1h-1zM93 125h1v1h-1zM95 125h2v1h-2zM98 125h1v1h-1zM109 125h1v1h-1zM111 125h1v1h-1zM115 125h1v1h-1zM120 125h1v1h-1zM124 125h1v1h-1zM126 125h1v1h-1zM134 125h1v1h-1zM67 126h1v1h-1zM87 126h1v1h-1zM90 126h1v1h-1zM92 126h1v1h-1zM96 126h1v1h-1zM98 126h1v1h-1zM102 126h1v1h-1zM104 126h2v1h-2zM107 126h2v1h-2zM114 126h2v1h-2zM118 126h1v1h-1zM125 126h1v1h-1zM135 126h1v1h-1zM81 127h1v1h-1zM88 127h2v1h-2zM92 127h2v1h-2zM95 127h1v1h-1zM97 127h1v1h-1zM99 127h1v1h-1zM110 127h1v1h-1zM112 127h2v1h-2zM115 127h4v1h-4zM80 128h2v1h-2zM87 128h1v1h-1zM95 128h1v1h-1zM97 128h1v1h-1zM101 128h2v1h-2zM105 128h1v1h-1zM111 128h1v1h-1zM113 128h1v1h-1zM117 128h1v1h-1zM80 129h1v1h-1zM90 129h1v1h-1zM93 129h1v1h-1zM96 129h1v1h-1zM99 129h1v1h-1zM105 129h1v1h-1zM109 129h1v1h-1zM117 129h2v1h-2z" fill="#404040" shape-rendering="crispEdges"/>
<path d="M69 60h1v1h-1zM93 60h2v1h-2zM70 61h2v1h-2zM74 61h1v1h-1zM79 61h1v1h-1zM92 61h1v1h-1zM61 62h1v1h-1zM64 62h1v1h-1zM83 62h1v1h-1zM85 62h1v1h-1zM94 62h2v1h-2zM98 62h1v1h-1zM57 63h3v1h-3zM91 63h1v1h-1zM89 64h1v1h-1zM91 64h1v1h-1zM93 64h2v1h-2zM90 65h1v1h-1zM94 65h1v1h-1zM69 66h2v1h-2zM74 66h2v1h-2zM80 66h1v1h-1zM92 66h1v1h-1zM94 66h1v1h-1zM114 66h1v1h-1zM64 67h2v1h-2zM67 67h11v1h-11zM84 67h1v1h-1zM113 67h1v1h-1zM118 67h1v1h-1zM65 68h15v1h-15zM81 68h1v1h-1zM91 68h3v1h-3zM114 68h1v1h-1zM116 68h2v1h-2zM63 69h17v1h-17zM90 69h1v1h-1zM113 69h1v1h-1zM117 69h1v1h-1zM57 70h26v1h-26zM91 70h2v1h-2zM94 70h1v1h-1zM115 70h2v1h-2zM118 70h1v1h-1zM57 71h25v1h-25zM84 71h1v1h-1zM94 71h1v1h-1zM119 71h1v1h-1zM57 72h12v1h-12zM72 72h11v1h-11zM84 72h1v1h-1zM91 72h1v1h-1zM94 72h1v1h-1zM117 72h1v1h-1zM119 72h1v1h-1zM57 73h11v1h-11zM69 73h1v1h-1zM72 73h1v1h-1zM75 73h9v1h-9zM92 73h1v1h-1zM116 73h4v1h-4zM57 74h10v1h-10zM75 74h1v1h-1zM77 74h9v1h-9zM115 74h3v1h-3zM119 74h1v1h-1zM57 75h9v1h-9zM77 75h8v1h-8zM91 75h2v1h-2zM94 75h1v1h-1zM116 75h1v1h-1zM57 76h9v1h-9zM76 76h9v1h-9zM93 76h2v1h-2zM118 76h1v1h-1zM57 77h9v1h-9zM78 77h8v1h-8zM93 77h1v1h-1zM115 77h1v1h-1zM57 78h7v1h-7zM75 78h1v1h-1zM77 78h1v1h-1zM79 78h8v1h-8zM92 78h1v1h-1zM118 78h1v1h-1zM57 79h8v1h-8zM78 79h8v1h-8zM93 79h2v1h-2zM57 80h7v1h-7zM72 80h1v1h-1zM79 80h7v1h-7zM91 80h1v1h-1zM57 81h8v1h-8zM78 81h8v1h-8zM57 82h7v1h-7zM78 82h8v1h-8zM91 82h1v1h-1zM94 82h1v1h-1zM57 83h8v1h-8zM79 83h7v1h-7zM57 84h8v1h-8zM68 84h1v1h-1zM70 84h1v1h-1zM79 84h6v1h-6zM57 85h8v1h-8zM66 85h1v1h-1zM78 85h7v1h-7zM57 86h7v1h-7zM65 86h1v1h-1zM76 86h9v1h-9zM57 87h8v1h-8zM78 87h6v1h-6zM57 88h9v1h-9zM69 88h1v1h-1zM76 88h1v1h-1zM78 88h7v1h-7zM57 89h8v1h-8zM67 89h1v1h-1zM76 89h8v1h-8zM57 90h10v1h-10zM68 90h1v1h-1zM76 90h7v1h-7zM89 90h2v1h-2zM57 91h12v1h-12zM75 91h9v1h-9zM89 91h2v1h-2zM57 92h13v1h-13zM73 92h8v1h-8zM90 92h1v1h-1zM98 92h1v1h-1zM114 92h1v1h-1zM57 93h24v1h-24zM88 93h1v1h-1zM91 93h1v1h-1zM57 94h7v1h-7zM65 94h14v1h-14zM89 94h2v1h-2zM95 94h3v1h-3zM57 95h6v1h-6zM66 95h12v1h-12zM88 95h1v1h-1zM90 95h1v1h-1zM93 95h1v1h-1zM96 95h1v1h-1zM57 96h6v1h-6zM69 96h6v1h-6zM97 96h1v1h-1zM99 96h1v1h-1zM57 97h7v1h-7zM71 97h1v1h-1zM90 97h1v1h-1zM98 97h1v1h-1zM115 97h1v1h-1zM57 98h6v1h-6zM67 98h1v1h-1zM77 98h1v1h-1zM97 98h2v1h-2zM102 98h1v1h-1zM105 98h1v1h-1zM57 99h6v1h-6zM74 99h1v1h-1zM89 99h2v1h-2zM96 99h1v1h-1zM100 99h1v1h-1zM105 99h1v1h-1zM109 99h1v1h-1zM57 100h6v1h-6zM65 100h2v1h-2zM68 100h1v1h-1zM77 100h2v1h-2zM90 100h1v1h-1zM96 100h1v1h-1zM98 100h1v1h-1zM101 100h1v1h-1zM105 100h1v1h-1zM57 101h7v1h-7zM72 101h2v1h-2zM76 101h2v1h-2zM88 101h2v1h-2zM96 101h1v1h-1zM102 101h1v1h-1zM57 102h6v1h-6zM67 102h1v1h-1zM72 102h1v1h-1zM88 102h2v1h-2zM93 102h1v1h-1zM98 102h1v1h-1zM101 102h1v1h-1zM103 102h1v1h-1zM107 102h1v1h-1zM57 103h6v1h-6zM89 103h1v1h-1zM91 103h2v1h-2zM97 103h1v1h-1zM99 103h4v1h-4zM104 103h1v1h-1zM57 104h8v1h-8zM66 104h1v1h-1zM69 104h1v1h-1zM71 104h1v1h-1zM76 104h1v1h-1zM88 104h2v1h-2zM92 104h1v1h-1zM97 104h1v1h-1zM101 104h1v1h-1zM112 104h1v1h-1zM57 105h7v1h-7zM73 105h7v1h-7zM89 105h1v1h-1zM91 105h1v1h-1zM94 105h1v1h-1zM97 105h1v1h-1zM100 105h1v1h-1zM103 105h1v1h-1zM105 105h1v1h-1zM108 105h2v1h-2zM57 106h7v1h-7zM75 106h6v1h-6zM88 106h1v1h-1zM90 106h1v1h-1zM94 106h1v1h-1zM98 106h4v1h-4zM103 106h1v1h-1zM107 106h1v1h-1zM109 106h2v1h-2zM57 107h8v1h-8zM75 107h5v1h-5zM89 107h3v1h-3zM93 107h5v1h-5zM100 107h3v1h-3zM107 107h3v1h-3zM115 107h1v1h-1zM57 108h7v1h-7zM67 108h1v1h-1zM77 108h3v1h-3zM88 108h4v1h-4zM93 108h1v1h-1zM98 108h2v1h-2zM101 108h3v1h-3zM106 108h4v1h-4zM111 108h2v1h-2zM57 109h6v1h-6zM66 109h1v1h-1zM76 109h4v1h-4zM89 109h2v1h-2zM94 109h6v1h-6zM101 109h2v1h-2zM104 109h2v1h-2zM107 109h2v1h-2zM110 109h1v1h-1zM112 109h1v1h-1zM57 110h6v1h-6zM76 110h4v1h-4zM89 110h11v1h-11zM101 110h3v1h-3zM105 110h2v1h-2zM109 110h2v1h-2zM114 110h1v1h-1zM57 111h6v1h-6zM77 111h5v1h-5zM89 111h5v1h-5zM95 111h1v1h-1zM97 111h3v1h-3zM101 111h5v1h-5zM108 111h2v1h-2zM111 111h1v1h-1zM114 111h2v1h-2zM57 112h7v1h-7zM77 112h3v1h-3zM84 112h1v1h-1zM89 112h4v1h-4zM95 112h3v1h-3zM99 112h3v1h-3zM103 112h3v1h-3zM107 112h5v1h-5zM115 112h2v1h-2zM57 113h7v1h-7zM66 113h1v1h-1zM76 113h4v1h-4zM89 113h3v1h-3zM93 113h3v1h-3zM97 113h12v1h-12zM110 113h1v1h-1zM112 113h1v1h-1zM122 113h1v1h-1zM57 114h6v1h-6zM69 114h1v1h-1zM77 114h3v1h-3zM89 114h8v1h-8zM98 114h3v1h-3zM102 114h1v1h-1zM105 114h3v1h-3zM109 114h4v1h-4zM114 114h1v1h-1zM57 115h6v1h-6zM73 115h1v1h-1zM77 115h3v1h-3zM90 115h2v1h-2zM93 115h1v1h-1zM95 115h4v1h-4zM100 115h8v1h-8zM109 115h4v1h-4zM114 115h1v1h-1zM116 115h1v1h-1zM120 115h1v1h-1zM57 116h7v1h-7zM67 116h1v1h-1zM71 116h1v1h-1zM77 116h4v1h-4zM89 116h9v1h-9zM101 116h3v1h-3zM105 116h2v1h-2zM108 116h5v1h-5zM117 116h4v1h-4zM122 116h1v1h-1zM57 117h6v1h-6zM71 117h1v1h-1zM76 117h4v1h-4zM89 117h2v1h-2zM92 117h13v1h-13zM106 117h1v1h-1zM108 117h2v1h-2zM111 117h2v1h-2zM116 117h1v1h-1zM123 117h1v1h-1zM57 118h7v1h-7zM67 118h1v1h-1zM73 118h2v1h-2zM76 118h4v1h-4zM82 118h1v1h-1zM88 118h22v1h-22zM111 118h2v1h-2zM119 118h1v1h-1zM57 119h7v1h-7zM76 119h4v1h-4zM88 119h1v1h-1zM90 119h2v1h-2zM93 119h9v1h-9zM103 119h10v1h-10zM117 119h1v1h-1zM119 119h1v1h-1zM57 120h7v1h-7zM66 120h1v1h-1zM76 120h4v1h-4zM88 120h3v1h-3zM93 120h6v1h-6zM100 120h1v1h-1zM103 120h3v1h-3zM107 120h7v1h-7zM115 120h2v1h-2zM118 120h1v1h-1zM57 121h8v1h-8zM71 121h1v1h-1zM74 121h1v1h-1zM76 121h4v1h-4zM88 121h6v1h-6zM96 121h1v1h-1zM98 121h1v1h-1zM101 121h3v1h-3zM105 121h4v1h-4zM112 121h2v1h-2zM115 121h1v1h-1zM118 121h2v1h-2zM124 121h1v1h-1zM57 122h8v1h-8zM66 122h1v1h-1zM75 122h5v1h-5zM88 122h5v1h-5zM94 122h15v1h-15zM111 122h2v1h-2zM115 122h2v1h-2zM119 122h1v1h-1zM126 122h1v1h-1zM57 123h8v1h-8zM66 123h1v1h-1zM74 123h6v1h-6zM88 123h7v1h-7zM96 123h1v1h-1zM98 123h2v1h-2zM101 123h1v1h-1zM103 123h1v1h-1zM105 123h3v1h-3zM110 123h4v1h-4zM57 124h9v1h-9zM68 124h2v1h-2zM72 124h1v1h-1zM74 124h7v1h-7zM87 124h11v1h-11zM99 124h9v1h-9zM109 124h2v1h-2zM113 124h5v1h-5zM125 124h1v1h-1zM57 125h9v1h-9zM72 125h8v1h-8zM88 125h1v1h-1zM91 125h2v1h-2zM94 125h1v1h-1zM97 125h1v1h-1zM99 125h3v1h-3zM103 125h6v1h-6zM110 125h1v1h-1zM113 125h1v1h-1zM117 125h1v1h-1zM128 125h1v1h-1zM57 126h10v1h-10zM68 126h12v1h-12zM88 126h2v1h-2zM94 126h2v1h-2zM97 126h1v1h-1zM99 126h3v1h-3zM103 126h1v1h-1zM106 126h1v1h-1zM109 126h1v1h-1zM111 126h1v1h-1zM113 126h1v1h-1zM57 127h23v1h-23zM90 127h1v1h-1zM94 127h1v1h-1zM96 127h1v1h-1zM100 127h6v1h-6zM108 127h2v1h-2zM111 127h1v1h-1zM114 127h1v1h-1zM120 127h1v1h-1zM123 127h1v1h-1zM57 128h23v1h-23zM88 128h3v1h-3zM94 128h1v1h-1zM96 128h1v1h-1zM98 128h3v1h-3zM103 128h2v1h-2zM106 128h5v1h-5zM114 128h1v1h-1zM116 128h1v1h-1zM118 128h1v1h-1zM57 129h23v1h-23zM82 129h1v1h-1zM87 129h3v1h-3zM94 129h2v1h-2zM97 129h2v1h-2zM100 129h2v1h-2zM103 129h1v1h-1zM106 129h1v1h-1zM110 129h1v1h-1zM112 129h1v1h-1zM115 129h1v1h-1z" fill="#000000" shape-rendering="crispEdges"/>
<path d="M95.5 64L96.1 64.03L96.94 64.07L97.94 64.12L99 64.19L100.05 64.28L101 64.4L101.87 64.54L102.72 64.7L103.56 64.89L104.39 65.1L105.2 65.33L106 65.6L106.8 65.91L107.6 66.25L108.38 66.62L109.14 67.01L109.85 67.41L110.5 67.8L111.09 68.19L111.64 68.6L112.14 69.01L112.6 69.42L113.02 69.82L113.4 70.2L113.75 70.55L114.08 70.89L114.37 71.21L114.6 71.53L114.75 71.86L114.8 72.2L114.75 72.56L114.6 72.92L114.37 73.29L114.08 73.66L113.75 74.03L113.4 74.4L113.02 74.77L112.6 75.13L112.14 75.5L111.64 75.87L111.09 76.23L110.5 76.6L109.85 76.97L109.14 77.36L108.38 77.74L107.6 78.11L106.8 78.47L106 78.8L105.2 79.11L104.39 79.41L103.56 79.7L102.72 79.96L101.87 80.2L101 80.4L100.05 80.56L99 80.7L97.94 80.8L96.94 80.88L96.1 80.95L95.5 81" fill="none" stroke="#000" stroke-width="1.15"/>
<path d="M97 66.8L97.44 66.85L98.06 66.91L98.78 66.99L99.56 67.09L100.32 67.22L101 67.4L101.63 67.62L102.26 67.87L102.87 68.15L103.46 68.47L104 68.82L104.5 69.2L104.98 69.63L105.46 70.1L105.9 70.61L106.26 71.14L106.51 71.67L106.6 72.2L106.51 72.74L106.26 73.3L105.9 73.86L105.46 74.41L104.98 74.93L104.5 75.4L104 75.82L103.46 76.21L102.87 76.56L102.26 76.88L101.63 77.16L101 77.4L100.32 77.59L99.56 77.73L98.78 77.83L98.06 77.9L97.44 77.95L97 78" fill="none" stroke="#777" stroke-width="0.6"/>
<path d="M97 69.6L97.27 69.67L97.66 69.77L98.11 69.88L98.59 70.02L99.03 70.19L99.4 70.4L99.72 70.65L100.04 70.94L100.34 71.27L100.58 71.61L100.74 71.96L100.8 72.3L100.74 72.65L100.58 73.03L100.34 73.42L100.04 73.79L99.72 74.12L99.4 74.4L99.03 74.62L98.59 74.79L98.11 74.93L97.66 75.04L97.27 75.13L97 75.2" fill="none" stroke="#999" stroke-width="0.5"/>
<rect x="57" y="35.6" width="97.7" height="94.1" fill="none" stroke="#333" stroke-width="0.9"/>
<path d="M57 35.6V129.7" stroke="#000" stroke-width="1.3"/>
<path d="M57 129.7H154.7" stroke="#000" stroke-width="1.1"/>
<path d="M57 129.7v2M57 129.7h-2M81.42 129.7v2M57 106.17h-2M105.85 129.7v2M57 82.65h-2M130.27 129.7v2M57 59.12h-2M154.7 129.7v2M57 35.6h-2" stroke="#000" stroke-width="1" fill="none"/>
<path d="M64.35 129.7v1.3M57 122.62h-1.3M68.65 129.7v1.3M57 118.48h-1.3M71.71 129.7v1.3M57 115.54h-1.3M74.07 129.7v1.3M57 113.26h-1.3M76.01 129.7v1.3M57 111.39h-1.3M77.64 129.7v1.3M57 109.82h-1.3M79.06 129.7v1.3M57 108.45h-1.3M80.31 129.7v1.3M57 107.25h-1.3M88.78 129.7v1.3M57 99.09h-1.3M93.08 129.7v1.3M57 94.95h-1.3M96.13 129.7v1.3M57 92.01h-1.3M98.5 129.7v1.3M57 89.73h-1.3M100.43 129.7v1.3M57 87.87h-1.3M102.07 129.7v1.3M57 86.29h-1.3M103.48 129.7v1.3M57 84.93h-1.3M104.73 129.7v1.3M57 83.73h-1.3M113.2 129.7v1.3M57 75.57h-1.3M117.5 129.7v1.3M57 71.43h-1.3M120.56 129.7v1.3M57 68.49h-1.3M122.92 129.7v1.3M57 66.21h-1.3M124.86 129.7v1.3M57 64.34h-1.3M126.49 129.7v1.3M57 62.77h-1.3M127.91 129.7v1.3M57 61.4h-1.3M129.16 129.7v1.3M57 60.2h-1.3M137.63 129.7v1.3M57 52.04h-1.3M141.93 129.7v1.3M57 47.9h-1.3M144.98 129.7v1.3M57 44.96h-1.3M147.35 129.7v1.3M57 42.68h-1.3M149.28 129.7v1.3M57 40.82h-1.3M150.92 129.7v1.3M57 39.24h-1.3M152.33 129.7v1.3M57 37.88h-1.3M153.58 129.7v1.3M57 36.68h-1.3" stroke="#000" stroke-width="0.6" fill="none" opacity="0.7"/>
<text class="tk" x="51.5" y="141.7" font-size="7.5">10<tspan dy="-3.7" dx="0.8" font-size="6.6">0</tspan></text>
<text class="tk" x="42.6" y="133.1" font-size="7.5">10<tspan dy="-3.7" dx="0.7" font-size="6.6">0</tspan></text>
<text class="tk" x="75.92" y="141.7" font-size="7.5">10<tspan dy="-3.7" dx="0.8" font-size="6.6">1</tspan></text>
<text class="tk" x="42.6" y="109.57" font-size="7.5">10<tspan dy="-3.7" dx="0.7" font-size="6.6">1</tspan></text>
<text class="tk" x="100.35" y="141.7" font-size="7.5">10<tspan dy="-3.7" dx="0.8" font-size="6.6">2</tspan></text>
<text class="tk" x="42.6" y="86.05" font-size="7.5">10<tspan dy="-3.7" dx="0.7" font-size="6.6">2</tspan></text>
<text class="tk" x="124.77" y="141.7" font-size="7.5">10<tspan dy="-3.7" dx="0.8" font-size="6.6">3</tspan></text>
<text class="tk" x="42.6" y="62.52" font-size="7.5">10<tspan dy="-3.7" dx="0.7" font-size="6.6">3</tspan></text>
<text class="tk" x="149.2" y="141.7" font-size="7.5">10<tspan dy="-3.7" dx="0.8" font-size="6.6">4</tspan></text>
<text class="tk" x="42.6" y="39" font-size="7.5">10<tspan dy="-3.7" dx="0.7" font-size="6.6">4</tspan></text>
<rect x="96" y="60.4" width="39.1" height="22.1" fill="none" stroke="#000" stroke-width="1.4"/>
<text x="123.4" y="56.1" font-size="10.6">1.69</text>
<text x="104" y="27.1" font-size="12.4" text-anchor="middle">Lin<tspan dy="-4.4" font-size="11.5" font-weight="bold">-</tspan><tspan dy="4.4"> cells</tspan></text>
<text x="102" y="154.6" font-size="12.7" text-anchor="middle">Sca-1</text>
<text transform="translate(34.2 82.6) rotate(-90)" font-size="12.7" text-anchor="middle">c-Kit</text>
<path d="M236.4 105.25L237.65 105.25L237.65 106.1L238.9 106.1L238.9 107.04L240.15 107.04L240.15 103.67L241.4 103.67L241.4 99.43L242.65 99.43L242.65 91.57L243.9 91.57L243.9 81.18L245.15 81.18L245.15 71.5L246.4 71.5L246.4 64.42L247.65 64.42L247.65 66.36L248.9 66.36L248.9 66.95L250.15 66.95L250.15 64.25L251.4 64.25L251.4 56.62L252.65 56.62L252.65 49.9L253.9 49.9L253.9 50.68L255.15 50.68L255.15 53.09L256.4 53.09L256.4 63.32L257.65 63.32L257.65 58.62L258.9 58.62L258.9 57L260.15 57L260.15 59.64L261.4 59.64L261.4 56.95L262.65 56.95L262.65 62.52L263.9 62.52L263.9 68.15L265.15 68.15L265.15 76.86L266.4 76.86L266.4 83.59L267.65 83.59L267.65 89.69L268.9 89.69L268.9 77.12L270.15 77.12L270.15 77.16L271.4 77.16L271.4 90.76L272.65 90.76L272.65 100.25L273.9 100.25L273.9 111.06L275.15 111.06L275.15 117.74L276.4 117.74L276.4 123.76L277.65 123.76L277.65 127.16L278.9 127.16L278.9 128.58L279 128.58L279 129.8L236.4 129.8Z" fill="#cecece"/>
<path d="M283 129L285 126L287 122.4L289 127L290.4 129L290.4 129.8L283 129.8Z" fill="#cecece"/>
<path d="M291.6 129L292.6 126.4L293.6 125L294.8 126.8L296 129L296 129.8L291.6 129.8Z" fill="#cecece"/>
<path d="M236.7 129.35L237.49 129.35L238.95 129.35L240.14 129.35L241.5 129.35L242.79 129.35L244 129.35L246 127.86L247.4 129.35L248.37 129.35L250 129.35L251.22 129.35L252.38 129.35L253.67 129.35L254.78 129.35L256.03 129.35L257.15 129.35L258.39 129.35L259.4 129.35L260.93 129.35L262 129.35L263.32 129.35L264.26 129.35L265.24 129.35L266.73 129.35L267.78 127.72L269 127.86L270.23 127.85L271.38 127.77L272.68 127.54L273.77 127.65L275 127.6L275.67 126.7L276.33 125.59L277.37 125.04L278 123.67L278.34 123.13L278.41 121.8L278.91 120.91L278.91 119.41L279.16 118.28L279.2 117.34L279.68 116.11L279.68 115.47L280 114.17L280.22 113.33L280.35 111.87L280.58 110.28L280.63 109.83L280.77 107.57L281.03 106.67L281.06 106.02L281.18 104.6L281.47 103.37L281.54 102.88L282.03 101.35L282 99.8L282.03 98.53L282.32 97.77L282.3 96.71L282.61 94.95L282.95 94.2L282.72 93.58L283.01 92.07L283.12 90.98L283.35 89.45L283.66 88.92L283.6 86.86L283.89 87.09L284.01 85.54L284.22 84.81L284.44 83.01L284.58 82.33L284.91 81.65L285 80.15L284.95 78.81L285.14 78.08L285.21 76.9L285.37 74.37L285.53 74.16L285.56 74.05L285.47 71.25L285.39 70.38L285.58 70.07L285.49 67.95L285.58 67.86L285.6 66.53L285.74 64.78L285.57 63.61L286.01 63.26L285.87 61.99L285.95 60.58L286 61.28L286.21 59.61L286.25 57.93L286.35 56.59L286.53 57.28L286.47 55.02L286.72 53.94L286.78 52.51L286.83 52.53L286.98 51.03L287 49.14L287.88 49.89L288 46.89L288.59 47.71L289.09 49.17L289.4 51.72L290.4 51.13L290.61 51.09L290.87 53.74L291.02 52.57L291.27 55.24L291.4 56.2L291.79 57.28L291.61 57.9L291.39 58.46L291.53 61.79L291.45 61.98L291.72 64.42L291.61 63.66L291.89 65.02L291.73 66.93L291.96 67.36L292.1 69.39L292 71.01L292.23 70.98L292.07 71.8L292.38 72.4L292.25 74.33L292.84 75.8L292.82 76.05L292.83 78.67L293.01 79.01L293 80.18L293.26 81.11L293.28 82.35L293.25 83.23L293.44 83.43L293.47 85.68L293.56 87.24L293.9 87.61L293.98 89.04L294 90.56L294.04 90.58L294.06 91.5L294.32 92.66L294.5 94.41L294.27 95.37L294.72 96.52L294.68 97.62L294.55 99.27L294.78 99.06L294.88 101.54L294.88 102.47L295.17 103.59L295.03 103.85L295.27 106.18L295.33 106.41L295.49 107.8L295.4 108.05L295.6 109.73L295.81 110.96L295.8 112.68L296.04 113.27L296.08 114.6L296.4 116.38L296.6 116.85L296.71 117.79L296.61 119.65L296.8 120.76L297 122.01L297.5 123.08L298.08 124.48L298.36 125.74L299 127.1L299.86 127.54L300.93 129.35L302 129.35L303.35 129.35L304.25 129.35L305.51 129.35L306.83 129.35L307.94 129.35L308.85 129.35L309.95 129.35L311.44 129.35L312.49 129.35L313.76 129.35L314.78 129.35L316 129.35L317.21 129.35L318.08 129.35L319.36 129.35L320.63 129.35L321.48 129.35L322.5 129.35L323.62 129.35L324.76 129.35L325.92 129.35L327.11 129.35L328.15 129.35L329.07 129.35L330.3 129.35L332.2 129.35" fill="none" stroke="#000" stroke-width="1.7" stroke-linejoin="round" stroke-linecap="round"/>
<path d="M235.7 35.4H332.5V129.8" fill="none" stroke="#1a1a1a" stroke-width="1.15"/>
<path d="M235.7 35.4V129.8H332.5" fill="none" stroke="#111" stroke-width="1.6" stroke-linecap="square"/>
<text class="tk" x="231.2" y="38.45" font-size="7.5" text-anchor="end" >100</text>
<text class="tk" x="231.2" y="57.33" font-size="7.5" text-anchor="end" >80</text>
<text class="tk" x="231.2" y="76.21" font-size="7.5" text-anchor="end" >60</text>
<text class="tk" x="231.2" y="95.09" font-size="7.5" text-anchor="end" >40</text>
<text class="tk" x="231.2" y="113.97" font-size="7.5" text-anchor="end" >20</text>
<text class="tk" x="231.2" y="132.85" font-size="7.5" text-anchor="end" >0</text>
<path d="M235.7 35.4h-2.9M235.7 54.28h-2.9M235.7 73.16h-2.9M235.7 92.04h-2.9M235.7 110.92h-2.9M235.7 129.8h-2.9" stroke="#111" stroke-width="1.2" fill="none"/>
<path d="M235.7 39.18h-1.6M235.7 42.95h-1.6M235.7 46.73h-1.6M235.7 50.5h-1.6M235.7 58.06h-1.6M235.7 61.83h-1.6M235.7 65.61h-1.6M235.7 69.38h-1.6M235.7 76.94h-1.6M235.7 80.71h-1.6M235.7 84.49h-1.6M235.7 88.26h-1.6M235.7 95.82h-1.6M235.7 99.59h-1.6M235.7 103.37h-1.6M235.7 107.14h-1.6M235.7 114.7h-1.6M235.7 118.47h-1.6M235.7 122.25h-1.6M235.7 126.02h-1.6" stroke="#111" stroke-width="0.8" fill="none" opacity="0.8"/>
<path d="M235.7 129.8v2.4M259.9 129.8v2.4M284.1 129.8v2.4M308.3 129.8v2.4M332.5 129.8v2.4" stroke="#111" stroke-width="1.2" fill="none"/>
<path d="M242.98 129.8v1.5M247.25 129.8v1.5M250.27 129.8v1.5M252.62 129.8v1.5M254.53 129.8v1.5M256.15 129.8v1.5M257.55 129.8v1.5M258.79 129.8v1.5M267.18 129.8v1.5M271.45 129.8v1.5M274.47 129.8v1.5M276.82 129.8v1.5M278.73 129.8v1.5M280.35 129.8v1.5M281.75 129.8v1.5M282.99 129.8v1.5M291.38 129.8v1.5M295.65 129.8v1.5M298.67 129.8v1.5M301.02 129.8v1.5M302.93 129.8v1.5M304.55 129.8v1.5M305.95 129.8v1.5M307.19 129.8v1.5M315.58 129.8v1.5M319.85 129.8v1.5M322.87 129.8v1.5M325.22 129.8v1.5M327.13 129.8v1.5M328.75 129.8v1.5M330.15 129.8v1.5M331.39 129.8v1.5" stroke="#111" stroke-width="0.7" fill="none" opacity="0.75"/>
<text class="tk" x="230.6" y="142.1" font-size="7.5">10<tspan dy="-3.7" dx="0.9" font-size="6.6">0</tspan></text>
<text class="tk" x="254.8" y="142.1" font-size="7.5">10<tspan dy="-3.7" dx="0.9" font-size="6.6">1</tspan></text>
<text class="tk" x="279" y="142.1" font-size="7.5">10<tspan dy="-3.7" dx="0.9" font-size="6.6">2</tspan></text>
<text class="tk" x="303.2" y="142.1" font-size="7.5">10<tspan dy="-3.7" dx="0.9" font-size="6.6">3</tspan></text>
<text class="tk" x="326.4" y="142.1" font-size="7.5">10<tspan dy="-3.7" dx="0.9" font-size="6.6">4</tspan></text>
<path d="M358 115.34L359.25 115.34L359.25 114.21L360.5 114.21L360.5 109.61L361.75 109.61L361.75 102.39L363 102.39L363 99.46L364.25 99.46L364.25 92.71L365.5 92.71L365.5 89.52L366.75 89.52L366.75 85.33L368 85.33L368 82.63L369.25 82.63L369.25 78.97L370.5 78.97L370.5 73.82L371.75 73.82L371.75 65.57L373 65.57L373 58.12L374.25 58.12L374.25 54.92L375.5 54.92L375.5 52.1L376.75 52.1L376.75 54.33L378 54.33L378 49.49L379.25 49.49L379.25 52.03L380.5 52.03L380.5 48.54L381.75 48.54L381.75 48.11L383 48.11L383 53.47L384.25 53.47L384.25 58.79L385.5 58.79L385.5 64.69L386.75 64.69L386.75 70.43L388 70.43L388 74.11L389.25 74.11L389.25 72.66L390.5 72.66L390.5 76.5L391.75 76.5L391.75 78.91L393 78.91L393 82.9L394.25 82.9L394.25 87.36L395.5 87.36L395.5 89.83L396.75 89.83L396.75 92.19L398 92.19L398 96.31L399.25 96.31L399.25 101.68L400.5 101.68L400.5 106.02L401.75 106.02L401.75 111.01L403 111.01L403 115.82L404.25 115.82L404.25 119.62L405.5 119.62L405.5 121.08L406.75 121.08L406.75 123.89L408 123.89L408 123.91L409.25 123.91L409.25 124.74L410.5 124.74L410.5 126.55L411.75 126.55L411.75 128.16L413 128.16L413 129.8L358 129.8Z" fill="#cecece"/>
<path d="M358.3 129.35L358.9 129.35L360.23 129.35L361.27 129.35L362.53 129.35L363.51 129.35L364.75 129.35L365.81 129.35L366.9 129.35L368.21 129.35L369.08 129.35L370.24 129.35L371.25 129.35L372.45 129.35L373.91 129.35L375.02 129.35L375.94 129.35L377 129.35L378.07 129.35L379.41 129.35L380.38 129.35L381.6 129.35L382.66 129.35L383.77 129.35L384.98 129.35L386.09 129.35L387.27 129.35L388.38 129.35L389.59 129.35L390.76 129.35L391.98 129.35L393 129.35L393.91 129.35L395.23 129.35L396.38 129.35L397.68 129.35L398.82 129.35L399.99 129.35L401 129.35L401.9 127.46L403 126.96L403.77 126.08L404.41 125.1L405.09 123.89L406 123.01L406.34 122.01L406.51 120.31L406.92 119.74L407.11 118.91L407.26 117.12L407.55 116.04L407.81 114.94L408 114.13L408.08 112L408.38 111.51L408.63 110.62L408.43 109.55L408.59 107.64L408.73 107.09L409.02 106.1L409.18 105.09L409.43 103.49L409.53 102.64L409.38 101.92L409.59 100.61L409.85 99.59L410 98.8L410.2 96.04L410.21 95.59L410.28 94.64L410.5 93.71L410.39 93.48L410.55 91.14L410.56 90.11L410.7 90.13L411.04 86.65L411.08 86.91L410.94 85.06L411.28 84.83L411.41 83.21L411.6 82.87L411.48 82.09L411.62 80.11L411.58 79.41L411.49 77.71L411.75 77.65L412 76.7L412.04 74.55L412.38 73.92L412.47 72.58L412.47 72.86L412.45 70.97L412.68 68.07L412.93 67.49L412.89 67.01L412.82 65.61L413.12 63.77L413.11 61.82L413.12 60.62L413.24 61.46L413.11 60.05L413.42 58.67L413.6 58.34L413.78 57.69L414.01 55.2L414.13 55.11L414.14 52.77L414.21 51.35L414.52 50.42L414.6 48.94L414.6 50.12L415.07 47.87L415 45.94L415.29 48.48L415.64 48.46L416.22 48.38L416.6 50.91L416.97 52.79L416.84 54.3L417.14 54.4L417.51 54.84L417.91 56.85L418 58.28L417.9 58.36L418.33 60.17L418.18 61.36L418.17 60.95L418.2 63.39L418.51 64.96L418.31 64.97L418.46 68.03L418.5 67.41L418.76 70.06L418.85 70.67L419.02 70.27L418.98 72.14L419.09 72.96L419.18 75.76L419.43 75.04L419.14 77.07L419.43 77.32L419.5 78.42L419.4 81.05L419.45 81.75L419.29 80.97L419.72 82.02L419.84 83.66L419.7 86.21L419.82 86.77L419.91 87.74L420.04 89.39L420.08 90.43L420.03 90.75L419.81 93.32L420.25 93.8L420.36 94.26L420.62 95.99L420.41 97.01L420.46 96.73L420.97 99.4L420.61 99.87L420.67 101.04L420.58 101.56L420.76 103.96L420.89 105.16L421 106.1L420.92 107.11L421.32 107.74L421.21 108.96L421.33 110.23L421.38 111.08L421.72 112.38L421.68 113.87L421.74 115.49L421.87 116.5L421.84 117.86L422.07 119.29L422.33 119.73L422.26 120.4L422.4 122.13L422.72 123.48L423.11 124.58L423.43 125.58L423.73 126.68L424 129.35L425.03 129.35L426.35 129.35L427.37 129.35L428.48 129.35L429.68 129.35L430.7 129.35L431.67 129.35L433 129.35L434 129.35L435.21 129.35L436.3 129.35L437.15 129.35L438.4 129.35L439.62 129.35L440.74 129.35L441.98 129.35L442.89 129.35L444.2 129.35L444.99 129.35L446.25 129.35L447.46 129.35L448.69 129.35L449.77 129.35L450.78 129.35L452.06 129.35L454.1 129.35" fill="none" stroke="#000" stroke-width="1.7" stroke-linejoin="round" stroke-linecap="round"/>
<path d="M357.3 35.4H454.4V129.8" fill="none" stroke="#1a1a1a" stroke-width="1.15"/>
<path d="M357.3 35.4V129.8H454.4" fill="none" stroke="#111" stroke-width="1.6" stroke-linecap="square"/>
<text class="tk" x="352.8" y="38.45" font-size="7.5" text-anchor="end" >100</text>
<text class="tk" x="352.8" y="57.33" font-size="7.5" text-anchor="end" >80</text>
<text class="tk" x="352.8" y="76.21" font-size="7.5" text-anchor="end" >60</text>
<text class="tk" x="352.8" y="95.09" font-size="7.5" text-anchor="end" >40</text>
<text class="tk" x="352.8" y="113.97" font-size="7.5" text-anchor="end" >20</text>
<text class="tk" x="352.8" y="132.85" font-size="7.5" text-anchor="end" >0</text>
<path d="M357.3 35.4h-2.9M357.3 54.28h-2.9M357.3 73.16h-2.9M357.3 92.04h-2.9M357.3 110.92h-2.9M357.3 129.8h-2.9" stroke="#111" stroke-width="1.2" fill="none"/>
<path d="M357.3 39.18h-1.6M357.3 42.95h-1.6M357.3 46.73h-1.6M357.3 50.5h-1.6M357.3 58.06h-1.6M357.3 61.83h-1.6M357.3 65.61h-1.6M357.3 69.38h-1.6M357.3 76.94h-1.6M357.3 80.71h-1.6M357.3 84.49h-1.6M357.3 88.26h-1.6M357.3 95.82h-1.6M357.3 99.59h-1.6M357.3 103.37h-1.6M357.3 107.14h-1.6M357.3 114.7h-1.6M357.3 118.47h-1.6M357.3 122.25h-1.6M357.3 126.02h-1.6" stroke="#111" stroke-width="0.8" fill="none" opacity="0.8"/>
<path d="M357.3 129.8v2.4M381.57 129.8v2.4M405.85 129.8v2.4M430.12 129.8v2.4M454.4 129.8v2.4" stroke="#111" stroke-width="1.2" fill="none"/>
<path d="M364.61 129.8v1.5M368.88 129.8v1.5M371.92 129.8v1.5M374.27 129.8v1.5M376.19 129.8v1.5M377.81 129.8v1.5M379.22 129.8v1.5M380.46 129.8v1.5M388.88 129.8v1.5M393.16 129.8v1.5M396.19 129.8v1.5M398.54 129.8v1.5M400.46 129.8v1.5M402.09 129.8v1.5M403.5 129.8v1.5M404.74 129.8v1.5M413.16 129.8v1.5M417.43 129.8v1.5M420.47 129.8v1.5M422.82 129.8v1.5M424.74 129.8v1.5M426.36 129.8v1.5M427.77 129.8v1.5M429.01 129.8v1.5M437.43 129.8v1.5M441.71 129.8v1.5M444.74 129.8v1.5M447.09 129.8v1.5M449.01 129.8v1.5M450.64 129.8v1.5M452.05 129.8v1.5M453.29 129.8v1.5" stroke="#111" stroke-width="0.7" fill="none" opacity="0.75"/>
<text class="tk" x="352.2" y="142.1" font-size="7.5">10<tspan dy="-3.7" dx="0.9" font-size="6.6">0</tspan></text>
<text class="tk" x="376.47" y="142.1" font-size="7.5">10<tspan dy="-3.7" dx="0.9" font-size="6.6">1</tspan></text>
<text class="tk" x="400.75" y="142.1" font-size="7.5">10<tspan dy="-3.7" dx="0.9" font-size="6.6">2</tspan></text>
<text class="tk" x="425.02" y="142.1" font-size="7.5">10<tspan dy="-3.7" dx="0.9" font-size="6.6">3</tspan></text>
<text class="tk" x="448.3" y="142.1" font-size="7.5">10<tspan dy="-3.7" dx="0.9" font-size="6.6">4</tspan></text>
<text x="281.7" y="28.7" font-size="11" text-anchor="middle">CD34<tspan dy="-4.2" font-size="10" font-weight="bold">-</tspan><tspan dy="4.2">KSL</tspan></text>
<text x="402.2" y="28.7" font-size="11" text-anchor="middle">CD34<tspan dy="-3" font-size="11" stroke-width="0.1">+</tspan><tspan dy="3">KSL</tspan></text>
<text transform="translate(216.2 82.8) rotate(-90)" font-size="10.8" text-anchor="middle">Relative cell number</text>
<path d="M228 153.8H322M361 153.8H457" stroke="#000" stroke-width="1.7"/>
<text x="341.9" y="157" font-size="10.7" text-anchor="middle">Tmtsp</text>
<path d="M131 70.1H192" stroke="#000" stroke-width="1.7"/>
<path d="M201.5 70.1L188.8 66.3V73.9Z" fill="#000"/>
<path d="M29 296L30.4 297L32 285L34 271L36 262L38 255L40 250L42 247L43.4 245L44.6 243.6L46 244.4L48 247L49 249L50 258.4L51.6 270.4L53 280.4L54.4 292.4L56 303.4L58 311.4L60 316.4L62 319L62 319.4L29 319.4Z" fill="#dcdcdc"/>
<path d="M29.8 258.27L29.8 261.22L29.8 263.93L29.8 263.53L29.8 264.83L29.8 266.11L29.8 266.09L29.8 268.11L29.8 271.06L29.8 269.22L29.8 268.74L29.8 273.69L29.8 274.41L29.8 273.81L29.8 276.36L29.8 278.06L29.8 276.12L29.8 278.29L29.8 280.64L29.8 281.19L29.8 281.48L29.8 283.23L29.93 284.11L29.85 286.65L30.14 286.88L29.89 288.01L30.22 290.5L30.03 289.18L30.23 290.62L30.37 292.39L30.28 292.99L30.13 294.41L30.4 296.04L30.52 295.38L30.8 292.75L30.81 293.37L31.07 292.26L31.33 290.34L31.32 289.32L31.65 287.51L31.59 286.85L31.93 284.38L31.85 284.01L32 282.96L32.37 282.16L32.27 281.82L32.51 280.26L32.57 279.9L32.91 276.31L33.05 276.48L33.18 276.55L33.17 272.56L33.43 272.65L33.73 273.87L33.9 269.29L34 268.18L34.37 268.93L34.39 268.19L34.96 267.18L35.17 265.93L35.2 265.48L35.54 262.59L35.66 262.06L36 259.86L36.24 259.57L36.62 257.48L36.87 260.41L37.46 257.62L37.49 255.5L38 252.57L38.56 252.38L38.99 248.03L39.66 250.96L40 249.7L40.49 245.41L40.91 246.92L41.58 245.53L42 242.69L42.86 243.3L43.4 245.35L43.71 241.41L44.03 239.91L43.79 238.67L44.34 236.44L44.6 236.87L45.6 236.01L45.68 236.78L45.91 238.69L46.08 238.78L46.22 240.59L46.4 243.36L46.66 241.73L46.88 240.84L47.2 238.92L47.29 239.33L47.46 242.35L47.44 241.8L47.6 240.69L47.84 241.58L47.85 245.84L48 248.67L48.36 246.02L49 246.79L49.04 249.88L49.23 249.7L49.34 250.65L49.4 251.93L49.44 253.02L49.59 255.96L49.9 256.16L49.82 259.28L50 258.55L50.15 257.05L50.32 258.99L50.64 260.63L50.59 259.6L50.86 262.64L51.02 265.07L51 265.64L51.08 268.63L51.11 266.02L51.46 268.21L51.6 269.92L51.72 271.72L51.84 272.55L52.06 273.31L52.17 275.69L52.21 274.25L52.52 276.85L52.8 278.37L52.94 279.79L53 281.04L53.03 281.24L53.11 284.3L53.74 282.77L53.53 285.08L53.82 287.51L53.8 287.6L54.06 288.23L54 289.28L54.33 291.41L54.4 292.24L54.41 293.19L54.7 294.84L54.96 294.81L54.94 296.18L55.42 298.13L55.22 299.38L55.67 298.83L55.56 300.72L55.69 300.98L56 303.79L56.55 303.48L56.54 305.66L56.92 307.21L57.23 307.48L57.29 308.91L57.58 310.16L58 310.59L58.62 312.94L58.97 313.88L59.47 314.88L60 316.15L61.02 317.2L62 318.95L64 318.95L65.22 318.95L66.24 318.95L67.38 318.95L68.59 318.95L69.52 318.95L70.7 318.95L71.79 318.95L72.85 318.95L74.34 318.95L75.07 318.95L76.2 318.95L77.4 318.95L78.53 318.95L79.67 318.95L80.79 318.95L81.81 318.95L82.93 318.95L84.05 318.95L85.33 318.95L86.09 318.95L87.38 318.95L88.44 318.95L89.68 318.95L90.49 318.95L91.88 318.95L93.04 318.95L94 318.95L95.25 318.95L96.28 318.95L97.39 318.95L98.48 318.95L99.73 318.95L100.92 318.95L101.98 318.95L103.28 318.95L104.37 318.95L105.47 318.95L106.56 318.95L107.95 318.95L108.74 318.95L110.12 318.95L111.21 318.95L112.22 318.95L113.35 318.95L114.5 318.95L115.69 318.95L116.63 318.95L118.03 318.95L118.97 318.95L120.14 318.95L121.45 318.95L122.47 318.95L125.3 318.95" fill="none" stroke="#2e2e2e" stroke-width="2.0" stroke-linejoin="round" stroke-linecap="round"/>
<path d="M28.8 224.2H125.6V319.4" fill="none" stroke="#1a1a1a" stroke-width="1.15"/>
<path d="M28.8 224.2V319.4H125.6" fill="none" stroke="#111" stroke-width="1.6" stroke-linecap="square"/>
<text class="tk" x="24.3" y="227.25" font-size="7.5" text-anchor="end" >100</text>
<text class="tk" x="24.3" y="246.29" font-size="7.5" text-anchor="end" >80</text>
<text class="tk" x="24.3" y="265.33" font-size="7.5" text-anchor="end" >60</text>
<text class="tk" x="24.3" y="284.37" font-size="7.5" text-anchor="end" >40</text>
<text class="tk" x="24.3" y="303.41" font-size="7.5" text-anchor="end" >20</text>
<text class="tk" x="24.3" y="322.45" font-size="7.5" text-anchor="end" >0</text>
<path d="M28.8 224.2h-2.9M28.8 243.24h-2.9M28.8 262.28h-2.9M28.8 281.32h-2.9M28.8 300.36h-2.9M28.8 319.4h-2.9" stroke="#111" stroke-width="1.2" fill="none"/>
<path d="M28.8 228.01h-1.6M28.8 231.82h-1.6M28.8 235.62h-1.6M28.8 239.43h-1.6M28.8 247.05h-1.6M28.8 250.86h-1.6M28.8 254.66h-1.6M28.8 258.47h-1.6M28.8 266.09h-1.6M28.8 269.9h-1.6M28.8 273.7h-1.6M28.8 277.51h-1.6M28.8 285.13h-1.6M28.8 288.94h-1.6M28.8 292.74h-1.6M28.8 296.55h-1.6M28.8 304.17h-1.6M28.8 307.98h-1.6M28.8 311.78h-1.6M28.8 315.59h-1.6" stroke="#111" stroke-width="0.8" fill="none" opacity="0.8"/>
<path d="M28.8 319.4v2.4M53 319.4v2.4M77.2 319.4v2.4M101.4 319.4v2.4M125.6 319.4v2.4" stroke="#111" stroke-width="1.2" fill="none"/>
<path d="M36.08 319.4v1.5M40.35 319.4v1.5M43.37 319.4v1.5M45.72 319.4v1.5M47.63 319.4v1.5M49.25 319.4v1.5M50.65 319.4v1.5M51.89 319.4v1.5M60.28 319.4v1.5M64.55 319.4v1.5M67.57 319.4v1.5M69.92 319.4v1.5M71.83 319.4v1.5M73.45 319.4v1.5M74.85 319.4v1.5M76.09 319.4v1.5M84.48 319.4v1.5M88.75 319.4v1.5M91.77 319.4v1.5M94.12 319.4v1.5M96.03 319.4v1.5M97.65 319.4v1.5M99.05 319.4v1.5M100.29 319.4v1.5M108.68 319.4v1.5M112.95 319.4v1.5M115.97 319.4v1.5M118.32 319.4v1.5M120.23 319.4v1.5M121.85 319.4v1.5M123.25 319.4v1.5M124.49 319.4v1.5" stroke="#111" stroke-width="0.7" fill="none" opacity="0.75"/>
<text class="tk" x="24.4" y="332.1" font-size="6.6">10<tspan dy="-3.7" dx="0.9" font-size="6.6">0</tspan></text>
<text class="tk" x="48.6" y="332.1" font-size="6.6">10<tspan dy="-3.7" dx="0.9" font-size="6.6">1</tspan></text>
<text class="tk" x="72.8" y="332.1" font-size="6.6">10<tspan dy="-3.7" dx="0.9" font-size="6.6">2</tspan></text>
<text class="tk" x="97" y="332.1" font-size="6.6">10<tspan dy="-3.7" dx="0.9" font-size="6.6">3</tspan></text>
<text class="tk" x="120.2" y="332.1" font-size="6.6">10<tspan dy="-3.7" dx="0.9" font-size="6.6">4</tspan></text>
<path d="M156.4 308L159 305.6L161 299.6L163 293.6L164.4 286.6L165.4 276L167 271L169 259L171 253L173 247L175 244L176.6 242L178 250L180 255L181 266.4L182 274.4L183 286.4L184 296.4L185 304.4L186 312.4L187 319L187 319.4L156.4 319.4Z" fill="#dcdcdc"/>
<path d="M157 299.56L157 300.65L157 303.35L157 302.96L157 304.73L157.03 305.66L157.34 307.04L157.4 308.37L157.99 306.78L158.56 306.87L159 304.58L159.38 305.12L159.78 302.61L160.15 301.45L160.55 301.9L161 297.03L161.33 297.2L161.84 296.67L162.29 295.54L162.44 294.77L163 292.31L163.41 290.57L163.63 291.22L163.8 289.86L164.05 289.2L164.2 287.43L164.4 285.88L164.32 285.92L164.38 283.2L164.48 282.15L164.93 280.28L164.87 278.92L165.03 278.53L165.1 278.62L165.37 276.86L165.24 275.77L165.4 274.49L165.65 272.02L165.86 271.44L166.03 271.62L166.18 270.35L166.2 269.82L166.46 269.78L166.62 271.38L167 272.29L167.23 269.33L167.13 269.27L167.08 268.68L167.6 268.72L167.67 266.85L167.83 265.06L167.64 264.94L167.97 262.87L168 261.18L168 260.36L168.27 260.4L168.71 257.08L169 257.92L169.56 257.76L170 258.42L170.3 257.87L170.4 257.56L170.57 256.92L170.72 255.81L170.86 253.02L171 252.33L171.36 251.03L171.38 248.81L171.55 248.16L171.58 247.71L172 246.55L172.62 245.36L173 242.39L173.15 243.62L173.25 247.55L173.5 245.62L173.48 248.19L173.75 249.8L173.94 248.44L174 251.92L173.97 249.18L174.06 249.15L174.44 247.17L174.47 245.41L174.75 248.88L174.53 243.37L174.67 242.55L174.88 244.82L174.84 241.48L175 238.38L174.97 239.04L175.48 236.26L175.65 235.88L175.75 233.7L175.62 233.36L176 230.4L176.2 233.94L176.58 235.14L176.3 235.91L176.41 238.11L176.66 235.55L176.87 239.88L177.02 240.1L177 242.31L177.08 242.03L177.45 244.95L177.34 244.92L177.34 246.78L177.5 246.61L177.66 248.29L177.92 248.76L177.71 252.29L178 251.93L178.1 252.34L178.49 247.3L178.71 249.84L178.98 247.69L179 245.26L179.14 248.95L179.26 249.75L179.31 249.17L179.64 251.3L179.79 249.61L180.01 254.01L180 255.24L179.99 256.8L180.16 255.19L180.32 256.06L180.31 259.48L180.5 258.86L180.83 260.81L180.61 262.01L180.78 263.79L180.93 265.15L181 265.5L181.07 267.86L181.27 267.88L181.5 269.47L181.47 270.15L181.8 272.12L181.84 274.54L182 273.95L182.08 275.45L182.15 275.54L182.37 278.07L182.41 278.72L182.32 280.62L182.29 281.81L182.63 281.64L182.65 283.82L183.1 285.82L183 285.36L183.13 286.41L183.28 287.58L183.28 290.36L183.34 289.85L183.65 290.37L183.42 292.4L183.68 294.23L183.99 294.81L184 296.98L184.32 296.9L184.19 298.66L184.26 298.62L184.61 301.36L184.67 302.27L184.94 302.33L185 305.44L185.03 305.37L185.31 305.34L185.59 307.81L185.72 308.3L185.67 310.81L185.98 311.06L186 312.17L186.39 312.61L186.64 314.84L186.81 315.72L187 317.06L188.6 317.36L190 318.95L191.62 318.95L193 318.95L194.1 318.95L195.43 318.95L196.38 318.95L197.73 318.95L198.68 318.95L199.81 318.95L200.65 318.95L202.1 318.95L203.12 318.95L204.02 318.95L205.4 318.95L206.37 318.95L207.54 318.95L208.83 318.95L209.88 318.95L210.86 318.95L212.18 318.95L213.2 318.95L214.27 318.95L215.41 318.95L216.49 318.95L217.46 318.95L218.73 318.95L220.07 318.95L221 318.95L221.97 318.95L223.23 318.95L224.32 318.95L225.28 318.95L226.61 318.95L227.95 318.95L228.93 318.95L230.1 318.95L231.23 318.95L232.54 318.95L233.74 318.95L234.7 318.95L235.63 318.95L236.97 318.95L238.07 318.95L239.3 318.95L240.61 318.95L241.61 318.95L242.58 318.95L243.81 318.95L244.74 318.95L246.11 318.95L247.15 318.95L248.35 318.95L249.37 318.95L252.4 318.95" fill="none" stroke="#2e2e2e" stroke-width="2.0" stroke-linejoin="round" stroke-linecap="round"/>
<path d="M156 224.2H252.7V319.4" fill="none" stroke="#1a1a1a" stroke-width="1.15"/>
<path d="M156 224.2V319.4H252.7" fill="none" stroke="#111" stroke-width="1.6" stroke-linecap="square"/>
<text class="tk" x="151.5" y="227.25" font-size="7.5" text-anchor="end" >100</text>
<text class="tk" x="151.5" y="246.29" font-size="7.5" text-anchor="end" >80</text>
<text class="tk" x="151.5" y="265.33" font-size="7.5" text-anchor="end" >60</text>
<text class="tk" x="151.5" y="284.37" font-size="7.5" text-anchor="end" >40</text>
<text class="tk" x="151.5" y="303.41" font-size="7.5" text-anchor="end" >20</text>
<text class="tk" x="151.5" y="322.45" font-size="7.5" text-anchor="end" >0</text>
<path d="M156 224.2h-2.9M156 243.24h-2.9M156 262.28h-2.9M156 281.32h-2.9M156 300.36h-2.9M156 319.4h-2.9" stroke="#111" stroke-width="1.2" fill="none"/>
<path d="M156 228.01h-1.6M156 231.82h-1.6M156 235.62h-1.6M156 239.43h-1.6M156 247.05h-1.6M156 250.86h-1.6M156 254.66h-1.6M156 258.47h-1.6M156 266.09h-1.6M156 269.9h-1.6M156 273.7h-1.6M156 277.51h-1.6M156 285.13h-1.6M156 288.94h-1.6M156 292.74h-1.6M156 296.55h-1.6M156 304.17h-1.6M156 307.98h-1.6M156 311.78h-1.6M156 315.59h-1.6" stroke="#111" stroke-width="0.8" fill="none" opacity="0.8"/>
<path d="M156 319.4v2.4M180.18 319.4v2.4M204.35 319.4v2.4M228.52 319.4v2.4M252.7 319.4v2.4" stroke="#111" stroke-width="1.2" fill="none"/>
<path d="M163.28 319.4v1.5M167.53 319.4v1.5M170.55 319.4v1.5M172.9 319.4v1.5M174.81 319.4v1.5M176.43 319.4v1.5M177.83 319.4v1.5M179.07 319.4v1.5M187.45 319.4v1.5M191.71 319.4v1.5M194.73 319.4v1.5M197.07 319.4v1.5M198.99 319.4v1.5M200.61 319.4v1.5M202.01 319.4v1.5M203.24 319.4v1.5M211.63 319.4v1.5M215.88 319.4v1.5M218.9 319.4v1.5M221.25 319.4v1.5M223.16 319.4v1.5M224.78 319.4v1.5M226.18 319.4v1.5M227.42 319.4v1.5M235.8 319.4v1.5M240.06 319.4v1.5M243.08 319.4v1.5M245.42 319.4v1.5M247.34 319.4v1.5M248.96 319.4v1.5M250.36 319.4v1.5M251.59 319.4v1.5" stroke="#111" stroke-width="0.7" fill="none" opacity="0.75"/>
<text class="tk" x="151.6" y="332.1" font-size="6.6">10<tspan dy="-3.7" dx="0.9" font-size="6.6">0</tspan></text>
<text class="tk" x="175.78" y="332.1" font-size="6.6">10<tspan dy="-3.7" dx="0.9" font-size="6.6">1</tspan></text>
<text class="tk" x="199.95" y="332.1" font-size="6.6">10<tspan dy="-3.7" dx="0.9" font-size="6.6">2</tspan></text>
<text class="tk" x="224.12" y="332.1" font-size="6.6">10<tspan dy="-3.7" dx="0.9" font-size="6.6">3</tspan></text>
<text class="tk" x="247.3" y="332.1" font-size="6.6">10<tspan dy="-3.7" dx="0.9" font-size="6.6">4</tspan></text>
<path d="M284 308L287 300.4L289 288.4L291 280.4L293 272.4L295 262.4L296.6 255L298 251L299.4 246L301 242.4L302.6 243L304 247L305 250.4L306 258.4L307.4 268.4L309 280.4L310.6 292.4L312 302.4L313.4 311.4L315 319L315 319.4L284 319.4Z" fill="#dcdcdc"/>
<path d="M284.8 293.54L284.8 294.32L284.8 295.98L284.8 297.62L284.8 299.23L284.8 299.6L284.8 301.7L285 302.7L285.07 302.85L285.17 304.2L285.24 303.8L285.15 306.85L285.4 308.77L285.57 306.31L285.85 305.4L285.77 303.91L286.31 303.25L286.54 302.74L286.6 300.44L287 299.25L287.23 298.22L287.28 297.59L287.38 296.35L287.65 295.45L287.9 294.76L287.95 293.95L288.16 293.31L288.35 291.89L288.68 291.16L288.84 289.68L289 286.89L289.36 286.23L289.56 284.46L289.78 284.68L290.2 284L290.35 281.28L290.66 280.32L291 279.94L291.39 280.09L291.45 275.61L291.62 276.6L291.79 275.37L292.48 275.04L292.73 272.06L293 269.96L293.13 270.98L293.49 271.27L293.68 269.43L293.86 266.39L294.11 264.36L294.34 266.46L294.45 261.77L294.82 262.19L295 262.34L295.05 261.09L295.48 261.67L295.66 258.87L295.83 255.04L296.43 254.42L296.68 256.12L296.6 256.12L296.92 254.54L297.54 252.22L298 252.61L298.27 249.24L298.4 246.56L298.72 246.12L299.3 246.08L299.4 245.76L299.81 243.88L300.28 240.44L300.6 239.49L300.88 237.74L301.24 236.56L301.39 234.98L301.7 235.76L302 233.65L302.12 233.73L302.31 236.01L302.52 234.56L302.59 238.9L302.62 238.11L302.76 240.53L303 240.13L303.39 243.62L303.69 243.66L304 245.6L304.32 246.39L304.62 248.88L305 250.06L305.15 252.67L305.29 251.97L305.32 253.38L305.43 253.37L305.79 256.18L305.98 255.54L306 258.75L306.28 258.66L306.36 259.01L306.55 259.99L306.41 261.93L307.13 262.44L307.06 263.68L307.17 265.06L307.06 267.11L307.4 268.1L307.49 269.87L307.42 271.05L307.81 272L307.88 272.76L308 274.13L308.43 275.68L308.28 274.37L308.49 276.96L308.7 275.81L309 277.92L309 280.57L309.22 280.99L309.26 281.99L309.55 283.34L309.55 284.17L309.9 286.22L309.88 286.46L309.88 287.61L310.07 288.61L310.24 288.8L310.3 291.53L310.6 292.25L310.63 294.54L311.02 294.56L311.12 295.32L311.27 296.36L311.25 297.34L311.49 298.14L311.45 300.02L311.98 302.09L312 302.33L312.22 303.25L312.5 304L312.65 305.83L312.74 306.78L312.88 307.26L312.92 308.64L313.23 309.89L313.4 310.8L313.68 311.8L314.08 313.28L314.34 314.68L314.83 315.65L315 316.96L316.06 318.95L316.93 318.95L318 318.95L318.96 318.95L320.4 318.95L321.35 318.95L322.34 318.95L323.54 318.95L324.46 318.95L325.63 318.95L326.94 318.95L327.84 318.95L329.02 318.95L330.04 318.95L331.07 318.95L332.3 318.95L333.37 318.95L334.54 318.95L335.54 318.95L336.68 318.95L337.98 318.95L339 318.95L339.83 318.95L341.26 318.95L342.43 318.95L343.35 318.95L344.47 318.95L345.42 318.95L346.76 318.95L347.97 318.95L349 318.95L350.16 318.95L351.31 318.95L352.5 318.95L353.51 318.95L354.49 318.95L355.6 318.95L356.86 318.95L358.03 318.95L359.07 318.95L360.25 318.95L361.43 318.95L362.65 318.95L363.64 318.95L364.67 318.95L365.75 318.95L367 318.95L368.11 318.95L369.32 318.95L370.48 318.95L371.4 318.95L372.86 318.95L374.01 318.95L375.11 318.95L376.11 318.95L377.33 318.95L380.2 318.95" fill="none" stroke="#2e2e2e" stroke-width="2.0" stroke-linejoin="round" stroke-linecap="round"/>
<path d="M283.8 224.2H380.5V319.4" fill="none" stroke="#1a1a1a" stroke-width="1.15"/>
<path d="M283.8 224.2V319.4H380.5" fill="none" stroke="#111" stroke-width="1.6" stroke-linecap="square"/>
<text class="tk" x="279.3" y="227.25" font-size="7.5" text-anchor="end" >100</text>
<text class="tk" x="279.3" y="246.29" font-size="7.5" text-anchor="end" >80</text>
<text class="tk" x="279.3" y="265.33" font-size="7.5" text-anchor="end" >60</text>
<text class="tk" x="279.3" y="284.37" font-size="7.5" text-anchor="end" >40</text>
<text class="tk" x="279.3" y="303.41" font-size="7.5" text-anchor="end" >20</text>
<text class="tk" x="279.3" y="322.45" font-size="7.5" text-anchor="end" >0</text>
<path d="M283.8 224.2h-2.9M283.8 243.24h-2.9M283.8 262.28h-2.9M283.8 281.32h-2.9M283.8 300.36h-2.9M283.8 319.4h-2.9" stroke="#111" stroke-width="1.2" fill="none"/>
<path d="M283.8 228.01h-1.6M283.8 231.82h-1.6M283.8 235.62h-1.6M283.8 239.43h-1.6M283.8 247.05h-1.6M283.8 250.86h-1.6M283.8 254.66h-1.6M283.8 258.47h-1.6M283.8 266.09h-1.6M283.8 269.9h-1.6M283.8 273.7h-1.6M283.8 277.51h-1.6M283.8 285.13h-1.6M283.8 288.94h-1.6M283.8 292.74h-1.6M283.8 296.55h-1.6M283.8 304.17h-1.6M283.8 307.98h-1.6M283.8 311.78h-1.6M283.8 315.59h-1.6" stroke="#111" stroke-width="0.8" fill="none" opacity="0.8"/>
<path d="M283.8 319.4v2.4M307.98 319.4v2.4M332.15 319.4v2.4M356.32 319.4v2.4M380.5 319.4v2.4" stroke="#111" stroke-width="1.2" fill="none"/>
<path d="M291.08 319.4v1.5M295.33 319.4v1.5M298.35 319.4v1.5M300.7 319.4v1.5M302.61 319.4v1.5M304.23 319.4v1.5M305.63 319.4v1.5M306.87 319.4v1.5M315.25 319.4v1.5M319.51 319.4v1.5M322.53 319.4v1.5M324.87 319.4v1.5M326.79 319.4v1.5M328.41 319.4v1.5M329.81 319.4v1.5M331.04 319.4v1.5M339.43 319.4v1.5M343.68 319.4v1.5M346.7 319.4v1.5M349.05 319.4v1.5M350.96 319.4v1.5M352.58 319.4v1.5M353.98 319.4v1.5M355.22 319.4v1.5M363.6 319.4v1.5M367.86 319.4v1.5M370.88 319.4v1.5M373.22 319.4v1.5M375.14 319.4v1.5M376.76 319.4v1.5M378.16 319.4v1.5M379.39 319.4v1.5" stroke="#111" stroke-width="0.7" fill="none" opacity="0.75"/>
<text class="tk" x="279.4" y="332.1" font-size="6.6">10<tspan dy="-3.7" dx="0.9" font-size="6.6">0</tspan></text>
<text class="tk" x="303.58" y="332.1" font-size="6.6">10<tspan dy="-3.7" dx="0.9" font-size="6.6">1</tspan></text>
<text class="tk" x="327.75" y="332.1" font-size="6.6">10<tspan dy="-3.7" dx="0.9" font-size="6.6">2</tspan></text>
<text class="tk" x="351.93" y="332.1" font-size="6.6">10<tspan dy="-3.7" dx="0.9" font-size="6.6">3</tspan></text>
<text class="tk" x="375.1" y="332.1" font-size="6.6">10<tspan dy="-3.7" dx="0.9" font-size="6.6">4</tspan></text>
<text x="118.7" y="241.2" font-size="12.4" text-anchor="end">Myeloid</text>
<text x="245.9" y="243.3" font-size="12.7" text-anchor="end">Ter119<tspan dy="-3" font-size="12.6" stroke-width="0.1">+</tspan></text>
<text x="373.5" y="243.5" font-size="12.4" text-anchor="end">B220<tspan dy="-3" font-size="12.6" stroke-width="0.1">+</tspan></text>
<path d="M29 426L30.4 425.4L32 419.4L34 412L35.6 408.6L38.4 406L41 402L42.4 394L44 391L45.6 387.4L48.4 388L50 388.6L51.6 383L53 379L55.6 378.6L57 380L58.4 383.4L60 389.4L61.2 392.4L62.4 398.4L63.6 404.4L65 411.4L66.4 417.4L68 427.4L69.6 435.4L71.2 443.4L73 449.4L75 454.4L77.6 457.8L81 460L81 461L29 461Z" fill="#dcdcdc"/>
<path d="M29.8 423.45L29.8 424.67L30.4 426.08L30.78 423.19L31.01 423.03L31.48 423.87L31.46 419.98L32 418.14L32.16 419.89L32.55 418.09L32.84 414.74L33.22 414.07L33.62 413.2L33.56 411.9L34 412.67L34.38 410.6L35.09 409.5L35.6 407.07L36.03 406.93L36.47 408.74L37 410.27L37.45 408.69L37.89 407.68L37.95 406.8L38.4 404.09L39.09 404.46L39.6 405.07L39.88 405.99L40.08 405.45L40.37 406.74L40.86 403.94L41 400.91L41.22 399.91L41.44 396.89L41.77 394.97L41.65 394.81L41.92 396.24L42.12 393.42L42.4 391.52L42.73 389.46L43.55 391.09L44 389L44.63 389.14L44.94 386.35L45.6 387.06L46.22 386.46L46.64 389.57L47 390.34L47.7 388.89L48.4 387.95L50 387.28L50.33 386.37L50.47 385.55L50.92 382.96L51.35 384.7L51.6 382.85L51.88 379.05L52.4 378.3L52.79 377.52L53 377.42L53.42 378.07L54.04 379.71L54.4 378.65L55.18 379.72L55.6 377.43L56.18 376.91L57 377.67L57.36 381.29L57.91 381.12L58.4 382.98L58.73 382.51L59.1 385.26L59.27 386.35L59.44 389.26L60 389.09L60.66 389.65L61.2 392.58L61.46 391.21L61.66 396.79L61.92 396.05L62.24 398.22L62.4 398.28L62.45 399.84L62.98 401.12L62.97 401.68L63.29 403.03L63.6 403.33L63.97 405.42L63.96 405.05L64.22 407.56L64.41 408.15L64.86 409.84L65 409.68L65.41 415.12L65.5 412.5L65.79 415.78L65.95 416.57L66.4 416.81L66.74 418.09L66.7 418.65L66.99 420.08L67.01 419.39L67.32 421.93L67.7 423.44L67.86 424.73L67.9 425.69L68 427.16L68.31 427.59L68.47 430.64L68.56 430.07L68.99 431.94L69.2 432.61L69.47 433.78L69.6 434.74L69.62 435.64L70.07 438.34L70.26 439.97L70.4 439.57L70.87 440.33L70.91 442.15L71.2 443.44L71.63 445.45L71.96 446.33L72.14 446.06L72.65 447.73L73 449.28L73.48 450.67L73.92 451.49L74.36 452.67L75 454.34L75.99 455.65L76.62 456.02L77.6 457.34L78.71 457.74L79.92 458.31L81 459.07L82.7 460.55L84 460.55L85.07 460.55L86.01 460.55L87.58 460.55L88.34 460.55L89.45 460.55L90.76 460.55L91.88 460.55L92.85 460.55L93.92 460.55L95.04 460.55L95.93 460.55L97.42 460.55L98.43 460.55L99.53 460.55L100.59 460.55L101.85 460.55L102.78 460.55L104 460.55L105.31 460.55L106.31 460.55L107.53 460.55L108.34 460.55L109.78 460.55L110.75 460.55L111.85 460.55L113.3 460.55L114.69 460.55L115.63 460.55L116.66 460.55L117.74 460.55L118.91 460.55L120.13 460.55L121.45 460.55L122.43 460.55L125.3 460.55" fill="none" stroke="#2e2e2e" stroke-width="2.0" stroke-linejoin="round" stroke-linecap="round"/>
<path d="M28.8 366.5H125.6V461" fill="none" stroke="#1a1a1a" stroke-width="1.15"/>
<path d="M28.8 366.5V461H125.6" fill="none" stroke="#111" stroke-width="1.6" stroke-linecap="square"/>
<text class="tk" x="24.3" y="369.55" font-size="7.5" text-anchor="end" >100</text>
<text class="tk" x="24.3" y="388.45" font-size="7.5" text-anchor="end" >80</text>
<text class="tk" x="24.3" y="407.35" font-size="7.5" text-anchor="end" >60</text>
<text class="tk" x="24.3" y="426.25" font-size="7.5" text-anchor="end" >40</text>
<text class="tk" x="24.3" y="445.15" font-size="7.5" text-anchor="end" >20</text>
<text class="tk" x="24.3" y="464.05" font-size="7.5" text-anchor="end" >0</text>
<path d="M28.8 366.5h-2.9M28.8 385.4h-2.9M28.8 404.3h-2.9M28.8 423.2h-2.9M28.8 442.1h-2.9M28.8 461h-2.9" stroke="#111" stroke-width="1.2" fill="none"/>
<path d="M28.8 370.28h-1.6M28.8 374.06h-1.6M28.8 377.84h-1.6M28.8 381.62h-1.6M28.8 389.18h-1.6M28.8 392.96h-1.6M28.8 396.74h-1.6M28.8 400.52h-1.6M28.8 408.08h-1.6M28.8 411.86h-1.6M28.8 415.64h-1.6M28.8 419.42h-1.6M28.8 426.98h-1.6M28.8 430.76h-1.6M28.8 434.54h-1.6M28.8 438.32h-1.6M28.8 445.88h-1.6M28.8 449.66h-1.6M28.8 453.44h-1.6M28.8 457.22h-1.6" stroke="#111" stroke-width="0.8" fill="none" opacity="0.8"/>
<path d="M28.8 461v2.4M53 461v2.4M77.2 461v2.4M101.4 461v2.4M125.6 461v2.4" stroke="#111" stroke-width="1.2" fill="none"/>
<path d="M36.08 461v1.5M40.35 461v1.5M43.37 461v1.5M45.72 461v1.5M47.63 461v1.5M49.25 461v1.5M50.65 461v1.5M51.89 461v1.5M60.28 461v1.5M64.55 461v1.5M67.57 461v1.5M69.92 461v1.5M71.83 461v1.5M73.45 461v1.5M74.85 461v1.5M76.09 461v1.5M84.48 461v1.5M88.75 461v1.5M91.77 461v1.5M94.12 461v1.5M96.03 461v1.5M97.65 461v1.5M99.05 461v1.5M100.29 461v1.5M108.68 461v1.5M112.95 461v1.5M115.97 461v1.5M118.32 461v1.5M120.23 461v1.5M121.85 461v1.5M123.25 461v1.5M124.49 461v1.5" stroke="#111" stroke-width="0.7" fill="none" opacity="0.75"/>
<text class="tk" x="24.4" y="473.7" font-size="6.6">10<tspan dy="-3.7" dx="0.9" font-size="6.6">0</tspan></text>
<text class="tk" x="48.6" y="473.7" font-size="6.6">10<tspan dy="-3.7" dx="0.9" font-size="6.6">1</tspan></text>
<text class="tk" x="72.8" y="473.7" font-size="6.6">10<tspan dy="-3.7" dx="0.9" font-size="6.6">2</tspan></text>
<text class="tk" x="97" y="473.7" font-size="6.6">10<tspan dy="-3.7" dx="0.9" font-size="6.6">3</tspan></text>
<text class="tk" x="120.2" y="473.7" font-size="6.6">10<tspan dy="-3.7" dx="0.9" font-size="6.6">4</tspan></text>
<path d="M156.4 415L158 415.4L159 408L161 399L162.4 395L164.6 393L166.6 396.6L167.8 388L170.2 388L171.4 383L173.8 384L175 377L177.4 378L178.6 384.6L179.8 391.4L181 388L182.2 395.4L183.4 399.4L184.6 403.4L186 407.4L187.4 411.4L188.6 417.4L190 423.4L191.4 431.4L193 436.4L194.6 441.4L196.2 445.4L197.4 451.4L199 456.4L201 460L201 461L156.4 461Z" fill="#dcdcdc"/>
<path d="M157 371.96L157 375.55L157 373.59L157 375.49L157 377.91L157 378.83L157 379.41L157 379.54L157 380.34L157 382.05L157 384.18L157 385.35L157 387.32L157 389.45L157 388.96L157 389.13L157 391.74L157 390.68L157.02 393.33L157 395.16L157.01 396.41L157 396.19L157.05 397.6L157.1 400.38L157 399.77L157 399.94L157 401.84L157.18 403.77L157.11 404.41L157.29 404.63L157.44 405.11L157.47 407.93L157.78 409.02L157.62 411.3L157.62 411.23L158.09 414.01L157.96 414.86L158 413.66L158.24 413.24L158.28 412.58L158.41 411L158.28 407.8L158.39 409.39L158.65 406.29L159.01 407.16L159 404.93L159.09 407.91L159.47 406.96L159.72 407.77L160 412.44L160.04 409.82L160.04 407.24L160.21 406.26L160.1 406.78L160.36 403.45L160.52 403.51L160.51 400.64L160.64 398.83L160.59 401.73L160.85 397.34L160.78 398.04L161 397.76L161.43 395.36L162 395.67L162.4 391L162.62 395.25L163.04 393.77L163.03 398.02L163.6 397.47L163.76 396.06L164.02 396.68L164.24 392.65L164.21 394.06L164.39 391.85L164.6 392.81L164.7 390.16L165.02 393.97L164.94 394.82L165.1 395.32L165.23 396.28L165.34 400.28L165.34 395.74L165.67 400.34L165.6 400.12L165.89 397.81L166.2 395.75L166.41 398.8L166.6 395.35L166.77 395.36L166.62 393.23L167.15 392.7L167.34 391.62L167.15 390.13L167.23 386.47L167.42 390L167.45 385.9L167.6 387.54L167.8 386.49L167.85 386.95L168.18 387.18L168.11 389.27L168.18 389.6L168.48 392.7L168.63 392.16L168.53 393.6L168.75 396.17L168.88 394.95L169 395.22L169.13 395.34L169.16 393.21L169.29 390.82L169.66 390.54L169.69 390.73L169.8 388.6L170.02 387.07L170.2 385.77L170.57 386.38L170.75 382.74L170.86 384.4L171.25 380.87L171.4 381.41L171.74 383.01L171.71 382.32L171.7 383.86L172.08 385.39L172.22 387.57L172.55 386.36L172.6 389L172.82 387.78L173.01 387.19L173.44 384.6L173.5 385.61L173.8 381.32L174 381.73L173.95 381.01L174.16 380.05L174.38 378.15L174.49 377.53L174.66 373.57L174.7 376.05L174.84 375.61L175 372.14L175.11 374L175.15 378.33L175.39 376.32L175.4 377.83L175.74 379.68L176.04 381.78L176.2 380.31L176.52 379.32L176.82 377.39L177.06 378.7L177.4 377.12L177.41 377.3L177.74 376.49L177.98 378.12L178.12 381.89L178.17 382.5L178.53 381.97L178.6 384.67L178.99 386.67L178.9 382.95L179.15 386.06L179.55 387.81L179.79 388.04L179.8 390.12L180.11 388.25L180.61 387.36L180.76 387.66L181 388.25L181.39 387.15L181.34 389.02L181.43 390.73L181.43 389.44L181.57 391.84L182.06 393.19L182.01 393.62L182.2 396.65L182.57 395.49L183.01 395.3L183.4 398.7L183.78 399.85L184.09 404.12L184.6 404.28L185.17 405.52L185.4 405.45L186 406.77L186.45 409.14L186.92 411.29L187.4 410.91L187.66 413.25L187.92 412.17L188.18 413.84L188.56 417.8L188.6 416.07L188.99 417.85L188.93 420.05L189.57 422.42L189.76 421.04L190 424.16L190.2 424.34L190.47 424.59L190.68 426.38L190.62 428.09L190.8 428.06L191.27 429.09L191.4 431.7L191.65 432.36L192.3 433.12L192.53 434.56L193 435.08L193.33 436.88L193.68 438.94L194.28 439.68L194.6 441.44L195.3 441.87L195.93 443.12L196.2 444.93L196.54 445.59L196.68 447.19L196.94 449.55L197.05 449.36L197.4 450.76L197.68 451.92L198.06 453.97L198.6 455.12L199 456.26L199.83 457.09L201 458.23L202.43 458.48L204 458.99L205.08 459.08L206.58 460.55L207.82 460.55L209 460.55L210.22 460.55L211.18 460.55L212.31 460.55L213.57 460.55L214.49 460.55L215.65 460.55L216.97 460.55L217.67 460.55L219.01 460.55L220.11 460.55L221.19 460.55L222.07 460.55L223.28 460.55L224.43 460.55L225.75 460.55L226.72 460.55L227.9 460.55L228.65 460.55L229.93 460.55L231 460.55L232.24 460.55L233.28 460.55L234.51 460.55L235.39 460.55L236.76 460.55L237.82 460.55L239.2 460.55L240.48 460.55L241.47 460.55L242.69 460.55L243.69 460.55L244.74 460.55L245.97 460.55L247.01 460.55L248.14 460.55L249.44 460.55L252.4 460.55" fill="none" stroke="#2e2e2e" stroke-width="2.0" stroke-linejoin="round" stroke-linecap="round"/>
<path d="M156 366.5H252.7V461" fill="none" stroke="#1a1a1a" stroke-width="1.15"/>
<path d="M156 366.5V461H252.7" fill="none" stroke="#111" stroke-width="1.6" stroke-linecap="square"/>
<text class="tk" x="151.5" y="369.55" font-size="7.5" text-anchor="end" >100</text>
<text class="tk" x="151.5" y="388.45" font-size="7.5" text-anchor="end" >80</text>
<text class="tk" x="151.5" y="407.35" font-size="7.5" text-anchor="end" >60</text>
<text class="tk" x="151.5" y="426.25" font-size="7.5" text-anchor="end" >40</text>
<text class="tk" x="151.5" y="445.15" font-size="7.5" text-anchor="end" >20</text>
<text class="tk" x="151.5" y="464.05" font-size="7.5" text-anchor="end" >0</text>
<path d="M156 366.5h-2.9M156 385.4h-2.9M156 404.3h-2.9M156 423.2h-2.9M156 442.1h-2.9M156 461h-2.9" stroke="#111" stroke-width="1.2" fill="none"/>
<path d="M156 370.28h-1.6M156 374.06h-1.6M156 377.84h-1.6M156 381.62h-1.6M156 389.18h-1.6M156 392.96h-1.6M156 396.74h-1.6M156 400.52h-1.6M156 408.08h-1.6M156 411.86h-1.6M156 415.64h-1.6M156 419.42h-1.6M156 426.98h-1.6M156 430.76h-1.6M156 434.54h-1.6M156 438.32h-1.6M156 445.88h-1.6M156 449.66h-1.6M156 453.44h-1.6M156 457.22h-1.6" stroke="#111" stroke-width="0.8" fill="none" opacity="0.8"/>
<path d="M156 461v2.4M180.18 461v2.4M204.35 461v2.4M228.52 461v2.4M252.7 461v2.4" stroke="#111" stroke-width="1.2" fill="none"/>
<path d="M163.28 461v1.5M167.53 461v1.5M170.55 461v1.5M172.9 461v1.5M174.81 461v1.5M176.43 461v1.5M177.83 461v1.5M179.07 461v1.5M187.45 461v1.5M191.71 461v1.5M194.73 461v1.5M197.07 461v1.5M198.99 461v1.5M200.61 461v1.5M202.01 461v1.5M203.24 461v1.5M211.63 461v1.5M215.88 461v1.5M218.9 461v1.5M221.25 461v1.5M223.16 461v1.5M224.78 461v1.5M226.18 461v1.5M227.42 461v1.5M235.8 461v1.5M240.06 461v1.5M243.08 461v1.5M245.42 461v1.5M247.34 461v1.5M248.96 461v1.5M250.36 461v1.5M251.59 461v1.5" stroke="#111" stroke-width="0.7" fill="none" opacity="0.75"/>
<text class="tk" x="151.6" y="473.7" font-size="6.6">10<tspan dy="-3.7" dx="0.9" font-size="6.6">0</tspan></text>
<text class="tk" x="175.78" y="473.7" font-size="6.6">10<tspan dy="-3.7" dx="0.9" font-size="6.6">1</tspan></text>
<text class="tk" x="199.95" y="473.7" font-size="6.6">10<tspan dy="-3.7" dx="0.9" font-size="6.6">2</tspan></text>
<text class="tk" x="224.12" y="473.7" font-size="6.6">10<tspan dy="-3.7" dx="0.9" font-size="6.6">3</tspan></text>
<text class="tk" x="247.3" y="473.7" font-size="6.6">10<tspan dy="-3.7" dx="0.9" font-size="6.6">4</tspan></text>
<path d="M284 427L285.4 427.4L287 417.4L288.6 409.4L290.2 401.4L291.8 397.4L293.4 395.4L295 391.4L296.6 387.4L298.2 385.4L299.8 383.4L301.4 380.4L303 378L304.6 377.4L306.2 379.4L307.8 381.4L309 383.4L310.2 389.4L311.4 395.4L312.6 402.4L313.8 411.4L315 421.4L316.2 431.4L317.4 441.4L318.6 449.4L320 455.4L322 460L322 461L284 461Z" fill="#dcdcdc"/>
<path d="M284.8 370.5L284.8 369.49L284.8 377.07L284.8 375.55L284.8 376.69L284.8 380.01L284.8 378.52L284.8 380.41L284.8 381.8L284.8 378.83L284.8 382.67L284.8 383.46L284.8 383.21L284.8 387.02L284.8 387.79L284.8 389.82L284.8 390.13L284.8 391.03L284.8 392.78L284.8 392.13L284.8 395.26L284.8 395.52L284.8 397.16L284.8 395.18L284.8 399.71L284.8 400.64L284.8 401.82L284.84 400.64L284.8 404.48L284.8 403.92L284.8 405.2L284.8 405.72L284.8 407.58L284.82 407.9L284.85 410.44L285.27 409.49L284.92 410.04L284.99 414.06L285.14 414.37L284.98 416.44L285.2 414.8L285.07 417.5L285.09 418.19L285.39 420.66L285.31 420.78L285.41 422.36L285.23 421.9L285.43 423.73L285.17 426.54L285.4 426.12L285.56 426.68L285.5 424.43L285.89 425.29L286.11 423.26L286.4 421.77L286.51 419.38L286.61 418.93L286.77 419.24L287 417.82L287.24 416.05L287.41 415.05L287.52 413.65L287.99 411.75L288.01 410.18L288.55 407.72L288.6 408.28L288.76 408.87L289.11 405.87L289.3 403.58L289.42 403.12L289.79 402.76L290.2 401.53L290.2 400.95L290.74 402.22L291.27 396.23L291.8 394.44L292.66 396.88L293.4 394.4L293.98 394.78L294.68 391.03L295 390.91L295.38 390.76L296.03 387.07L296.6 387.93L297.46 385.74L298.2 385.8L298.74 382.26L299.8 382.61L300.31 384.05L301.08 382.33L301.4 379.81L301.84 379.31L302.36 375.23L303 375.1L304.6 374.86L305.37 377.2L305.63 377.87L306.2 377.84L307.17 380.69L307.8 383.39L308.27 380.71L309 385.32L309.07 383.91L309.54 384.65L309.53 386.39L310.08 388.27L310.2 388.37L310.67 391.98L310.76 391.46L311.05 392.78L311.13 392.96L311.4 396.03L311.7 396.53L311.95 396.47L312.04 398.89L312.11 399.35L312.39 401.36L312.6 401.45L312.55 400.01L312.93 406.01L313.29 406.49L313.1 404.99L313.46 407.91L313.42 408.27L313.65 408.45L313.8 411.52L314.17 411.61L313.99 412.3L314.34 413.62L314.23 415.26L314.43 416.62L314.65 417.04L314.56 418.39L314.7 419.28L315 421.99L315.07 422.35L315.29 422.75L315.36 425.84L315.57 425.13L315.68 425.89L315.85 427.46L316.03 428.74L316.06 431.5L316.2 430.74L316.39 431.47L316.73 432.34L316.56 433.98L316.71 434.32L316.79 437.04L317 438.45L317.07 438.69L317.43 439.71L317.4 441.14L317.68 441.97L317.63 443.42L317.96 443.88L318.02 446.14L318.51 446.51L318.69 448.29L318.6 448.76L318.84 449.84L319.32 452.16L319.36 452.32L319.84 453.87L320 454.5L320.63 455.97L321.36 457.14L322 458.07L323.18 458.2L323.96 458.87L325 460.55L326.22 460.55L327.34 460.55L328.32 460.55L329.84 460.55L330.71 460.55L331.77 460.55L332.72 460.55L333.88 460.55L335.38 460.55L336.44 460.55L337.46 460.55L338.7 460.55L339.65 460.55L340.77 460.55L342.06 460.55L342.95 460.55L344.21 460.55L345.49 460.55L346.3 460.55L347.78 460.55L348.81 460.55L349.89 460.55L351.27 460.55L352.13 460.55L353.35 460.55L354.38 460.55L355.63 460.55L356.6 460.55L357.83 460.55L359 460.55L360.1 460.55L361.36 460.55L362.33 460.55L363.63 460.55L364.72 460.55L365.77 460.55L366.87 460.55L368.25 460.55L369.22 460.55L370.36 460.55L371.84 460.55L373.01 460.55L373.87 460.55L375.04 460.55L376.3 460.55L377.35 460.55L380.2 460.55" fill="none" stroke="#2e2e2e" stroke-width="2.0" stroke-linejoin="round" stroke-linecap="round"/>
<path d="M283.8 366.5H380.5V461" fill="none" stroke="#1a1a1a" stroke-width="1.15"/>
<path d="M283.8 366.5V461H380.5" fill="none" stroke="#111" stroke-width="1.6" stroke-linecap="square"/>
<text class="tk" x="279.3" y="369.55" font-size="7.5" text-anchor="end" >100</text>
<text class="tk" x="279.3" y="388.45" font-size="7.5" text-anchor="end" >80</text>
<text class="tk" x="279.3" y="407.35" font-size="7.5" text-anchor="end" >60</text>
<text class="tk" x="279.3" y="426.25" font-size="7.5" text-anchor="end" >40</text>
<text class="tk" x="279.3" y="445.15" font-size="7.5" text-anchor="end" >20</text>
<text class="tk" x="279.3" y="464.05" font-size="7.5" text-anchor="end" >0</text>
<path d="M283.8 366.5h-2.9M283.8 385.4h-2.9M283.8 404.3h-2.9M283.8 423.2h-2.9M283.8 442.1h-2.9M283.8 461h-2.9" stroke="#111" stroke-width="1.2" fill="none"/>
<path d="M283.8 370.28h-1.6M283.8 374.06h-1.6M283.8 377.84h-1.6M283.8 381.62h-1.6M283.8 389.18h-1.6M283.8 392.96h-1.6M283.8 396.74h-1.6M283.8 400.52h-1.6M283.8 408.08h-1.6M283.8 411.86h-1.6M283.8 415.64h-1.6M283.8 419.42h-1.6M283.8 426.98h-1.6M283.8 430.76h-1.6M283.8 434.54h-1.6M283.8 438.32h-1.6M283.8 445.88h-1.6M283.8 449.66h-1.6M283.8 453.44h-1.6M283.8 457.22h-1.6" stroke="#111" stroke-width="0.8" fill="none" opacity="0.8"/>
<path d="M283.8 461v2.4M307.98 461v2.4M332.15 461v2.4M356.32 461v2.4M380.5 461v2.4" stroke="#111" stroke-width="1.2" fill="none"/>
<path d="M291.08 461v1.5M295.33 461v1.5M298.35 461v1.5M300.7 461v1.5M302.61 461v1.5M304.23 461v1.5M305.63 461v1.5M306.87 461v1.5M315.25 461v1.5M319.51 461v1.5M322.53 461v1.5M324.87 461v1.5M326.79 461v1.5M328.41 461v1.5M329.81 461v1.5M331.04 461v1.5M339.43 461v1.5M343.68 461v1.5M346.7 461v1.5M349.05 461v1.5M350.96 461v1.5M352.58 461v1.5M353.98 461v1.5M355.22 461v1.5M363.6 461v1.5M367.86 461v1.5M370.88 461v1.5M373.22 461v1.5M375.14 461v1.5M376.76 461v1.5M378.16 461v1.5M379.39 461v1.5" stroke="#111" stroke-width="0.7" fill="none" opacity="0.75"/>
<text class="tk" x="279.4" y="473.7" font-size="6.6">10<tspan dy="-3.7" dx="0.9" font-size="6.6">0</tspan></text>
<text class="tk" x="303.58" y="473.7" font-size="6.6">10<tspan dy="-3.7" dx="0.9" font-size="6.6">1</tspan></text>
<text class="tk" x="327.75" y="473.7" font-size="6.6">10<tspan dy="-3.7" dx="0.9" font-size="6.6">2</tspan></text>
<text class="tk" x="351.93" y="473.7" font-size="6.6">10<tspan dy="-3.7" dx="0.9" font-size="6.6">3</tspan></text>
<text class="tk" x="375.1" y="473.7" font-size="6.6">10<tspan dy="-3.7" dx="0.9" font-size="6.6">4</tspan></text>
<text x="119.8" y="383" font-size="12.4" text-anchor="end">Thy-1.2<tspan dy="-3" font-size="12.6" stroke-width="0.1">+</tspan></text>
<text x="246.2" y="384.5" font-size="12.4" text-anchor="end">NK1.1<tspan dy="-3" font-size="12.6" stroke-width="0.1">+</tspan></text>
<text x="373.6" y="384.4" font-size="12.4" text-anchor="end">B220<tspan dy="-3" font-size="12.6" stroke-width="0.1">+</tspan></text>
<path d="M29.4 583L30.4 579L31.2 567L32 562L32.6 577L33.4 567L34 557L34.6 550L35.4 569L36 557L36.8 552.6L37.6 569L38.2 555L39 546L39.6 541.4L40.4 561L41 547L41.8 537L42.4 532.6L43.2 555L43.8 539L44.4 532L45 527.4L45.8 549L46.6 533L47.2 527L48 521.4L48.8 543L49.6 531L50.2 527L51 526.6L51.8 543L52.6 533L53.2 530.6L54 534L55 541L56 547L58 563L60 575L62 587L64 595L66 600L68 603L70 606L70 606.1L29.4 606.1Z" fill="#dcdcdc"/>
<path d="M29.8 548.11L29.8 547.74L29.8 549.72L29.8 550.71L29.8 552.93L29.8 552.8L29.8 554.59L29.8 555.09L29.8 556.73L29.8 557.6L29.8 559.26L29.8 557.82L29.8 562.95L29.8 560.5L29.8 562.35L29.8 562.44L29.8 565.1L29.8 565.04L29.8 566.67L29.8 568.9L29.8 569.47L29.8 570.06L29.8 572.23L29.8 572.46L29.8 573.75L29.8 573.45L29.8 576.28L29.8 577.03L29.83 577.1L29.8 579.94L29.8 579.27L29.8 581.66L30.06 583.59L29.85 584.34L29.92 584.56L30.17 586.85L30.13 587.91L30.23 588.45L30.18 589.41L30.26 590.29L30.38 592.06L30.35 592.4L30.4 593.57L31.16 592.52L32 591.81L32.33 591.07L32.9 589.76L33.5 588.69L34 588.7L34.79 585.64L35.33 585.44L36 584.03L37.12 585.33L38 581.94L38.15 582.35L38.45 579.8L38.75 578.85L38.98 579.08L38.96 576.89L39.14 577.71L39.6 575.53L40.16 576.15L40.6 578.18L41 576.61L41.38 576.53L41.5 575.73L41.72 576.64L41.79 575.19L42.14 572.35L42.4 571.31L42.74 568.65L43.39 568.15L44 566.43L44.73 566.81L45.6 565.98L45.92 563.31L45.98 563L46.16 561.08L46.46 560.48L46.52 561.06L46.89 556.97L47 558.34L47.15 553.71L47.28 556.34L47.38 553.3L47.79 552.97L47.83 549.34L48.15 551.52L48.4 548.58L48.62 548.71L48.74 551.34L49.14 551.98L49.47 553.24L49.6 554.59L50.04 554.56L49.88 552.32L50.21 551.09L50.31 548.43L50.5 550L50.86 547.82L51 546.09L51.03 544.09L51.28 543.02L51.33 543.4L51.76 541.31L51.73 542.11L52.01 542.05L51.86 539.39L51.82 538.96L52.23 536.13L52.4 534.47L52.63 536.26L52.54 535.08L52.65 538.88L53.15 541.4L53.22 540.2L53.36 543.68L53.6 541.13L53.68 539.53L53.83 539.29L53.87 540.74L53.86 535.94L53.88 535.49L54.11 533.67L54.37 533.98L54.63 532.45L54.41 534.1L54.57 529.55L54.67 530.95L55 528.96L55.12 529.04L55.06 527.14L55.56 524.28L55.68 524.96L55.63 520.67L56.01 524.37L56 521.83L55.92 519.42L55.93 523.11L56.25 526.05L56.48 527.26L56.6 526.97L56.57 528.43L56.88 529.21L57 529.71L57.04 531.78L57.4 531.53L57.41 535.57L57.52 535.39L57.99 537.2L57.75 536.97L58.12 538.44L58.4 538.7L58.72 539.7L58.83 540.81L59.25 543.12L59.29 545.33L59.6 547.26L59.87 545.12L60.29 548L60.52 549.17L60.8 549.47L61.5 548.11L62 543.91L62.16 549L62.36 550L62.48 548.98L62.75 552.62L62.75 553.53L63.03 551.73L63.2 555.54L63.19 556.16L63.09 558.63L63.51 558.94L63.62 558.61L63.81 559.69L63.96 563.05L64 561.83L64.29 563.36L64.26 565.82L64.4 566.99L64.33 568.73L64.56 569.12L64.94 571.19L64.88 571.14L65.21 572.56L65.01 573.15L65.31 574.65L65.43 575.17L65.6 576.68L65.56 578.33L65.78 578.46L66.05 579.64L66.16 581.93L66.3 582.08L66.44 583.05L66.49 584.47L66.6 585.08L66.8 586.59L67.16 587.74L67.25 588.75L67.28 590.38L67.36 591.59L67.77 592.96L67.69 593.91L68 595.21L68.32 595.79L68.62 597.15L69.07 599.29L69.14 599.96L69.6 601.25L69.99 601.92L70.59 603.28L71.2 605.65L72.48 604.04L74 604.06L75.17 605.65L76.4 605.65L77.43 605.65L78.88 605.65L80 605.65L81.2 605.65L82.28 605.65L83.37 605.65L84.53 605.65L85.63 605.65L86.87 605.65L88.19 605.65L89.19 605.65L90.03 605.65L91.43 605.65L92.59 605.65L93.73 605.65L94.65 605.65L96.01 605.65L97 605.65L98.1 605.65L99.38 605.65L100.69 605.65L101.71 605.65L102.99 605.65L104 605.65L105.12 605.65L106.42 605.65L107.41 605.65L108.71 605.65L109.78 605.65L110.91 605.65L111.83 605.65L113.09 605.65L114.55 605.65L115.78 605.65L116.66 605.65L117.92 605.65L119.11 605.65L120.21 605.65L121.47 605.65L122.38 605.65L125.3 605.65" fill="none" stroke="#2e2e2e" stroke-width="2.0" stroke-linejoin="round" stroke-linecap="round"/>
<path d="M28.8 511.5H125.6V606.1" fill="none" stroke="#1a1a1a" stroke-width="1.15"/>
<path d="M28.8 511.5V606.1H125.6" fill="none" stroke="#111" stroke-width="1.6" stroke-linecap="square"/>
<text class="tk" x="24.3" y="514.55" font-size="7.5" text-anchor="end" >100</text>
<text class="tk" x="24.3" y="533.47" font-size="7.5" text-anchor="end" >80</text>
<text class="tk" x="24.3" y="552.39" font-size="7.5" text-anchor="end" >60</text>
<text class="tk" x="24.3" y="571.31" font-size="7.5" text-anchor="end" >40</text>
<text class="tk" x="24.3" y="590.23" font-size="7.5" text-anchor="end" >20</text>
<text class="tk" x="24.3" y="609.15" font-size="7.5" text-anchor="end" >0</text>
<path d="M28.8 511.5h-2.9M28.8 530.42h-2.9M28.8 549.34h-2.9M28.8 568.26h-2.9M28.8 587.18h-2.9M28.8 606.1h-2.9" stroke="#111" stroke-width="1.2" fill="none"/>
<path d="M28.8 515.28h-1.6M28.8 519.07h-1.6M28.8 522.85h-1.6M28.8 526.64h-1.6M28.8 534.2h-1.6M28.8 537.99h-1.6M28.8 541.77h-1.6M28.8 545.56h-1.6M28.8 553.12h-1.6M28.8 556.91h-1.6M28.8 560.69h-1.6M28.8 564.48h-1.6M28.8 572.04h-1.6M28.8 575.83h-1.6M28.8 579.61h-1.6M28.8 583.4h-1.6M28.8 590.96h-1.6M28.8 594.75h-1.6M28.8 598.53h-1.6M28.8 602.32h-1.6" stroke="#111" stroke-width="0.8" fill="none" opacity="0.8"/>
<path d="M28.8 606.1v2.4M53 606.1v2.4M77.2 606.1v2.4M101.4 606.1v2.4M125.6 606.1v2.4" stroke="#111" stroke-width="1.2" fill="none"/>
<path d="M36.08 606.1v1.5M40.35 606.1v1.5M43.37 606.1v1.5M45.72 606.1v1.5M47.63 606.1v1.5M49.25 606.1v1.5M50.65 606.1v1.5M51.89 606.1v1.5M60.28 606.1v1.5M64.55 606.1v1.5M67.57 606.1v1.5M69.92 606.1v1.5M71.83 606.1v1.5M73.45 606.1v1.5M74.85 606.1v1.5M76.09 606.1v1.5M84.48 606.1v1.5M88.75 606.1v1.5M91.77 606.1v1.5M94.12 606.1v1.5M96.03 606.1v1.5M97.65 606.1v1.5M99.05 606.1v1.5M100.29 606.1v1.5M108.68 606.1v1.5M112.95 606.1v1.5M115.97 606.1v1.5M118.32 606.1v1.5M120.23 606.1v1.5M121.85 606.1v1.5M123.25 606.1v1.5M124.49 606.1v1.5" stroke="#111" stroke-width="0.7" fill="none" opacity="0.75"/>
<text class="tk" x="24.4" y="618.8" font-size="6.6">10<tspan dy="-3.7" dx="0.9" font-size="6.6">0</tspan></text>
<text class="tk" x="48.6" y="618.8" font-size="6.6">10<tspan dy="-3.7" dx="0.9" font-size="6.6">1</tspan></text>
<text class="tk" x="72.8" y="618.8" font-size="6.6">10<tspan dy="-3.7" dx="0.9" font-size="6.6">2</tspan></text>
<text class="tk" x="97" y="618.8" font-size="6.6">10<tspan dy="-3.7" dx="0.9" font-size="6.6">3</tspan></text>
<text class="tk" x="120.2" y="618.8" font-size="6.6">10<tspan dy="-3.7" dx="0.9" font-size="6.6">4</tspan></text>
<path d="M156.4 551L157.8 550.6L159 544L160.6 536L162 529L163.4 526L166 528L167.4 525.4L170.6 525.4L172.2 527L175.4 528L177 530.6L178.6 531.6L180 537.4L181.4 543.4L182.6 549.4L184 555.4L185.4 563.4L186.6 571.4L188 579.4L189.4 586.4L191 593.4L192.6 599.4L194.2 603L196.2 606L196.2 606.1L156.4 606.1Z" fill="#dcdcdc"/>
<path d="M157 519.62L157 521.63L157 524.16L157 521.37L157 526.44L157 523.96L157 526.51L157 529.85L157 526.2L157 528.82L157 531.94L157 532.11L157 533.82L157.11 536.02L157 537.03L157 537.9L157.04 539.03L157.07 541.14L157 537.93L157.24 541.31L157.45 543.12L157.24 545.34L157.46 545.6L157.56 547.25L157.63 546.56L157.48 549.86L157.8 548.9L158.01 547.6L158.16 547.06L158.53 548.15L158.38 544.76L158.87 544.47L159 542.81L159.08 543.06L159.6 539.81L159.66 539.59L160.08 539.6L160.14 537.6L160.54 535.41L160.6 533.21L160.64 534.94L161.02 535.12L161.57 529.85L161.45 530.15L161.75 528.86L162 527.97L162.37 526.95L162.91 526.68L163.4 523.42L163.51 526.82L163.98 526.16L163.78 528.05L164.2 529.8L164.28 530.24L164.39 530.95L164.6 530.94L165.06 531.26L165.21 528.99L165.56 527.68L166 528.05L166.42 526.24L166.69 524.36L167.4 522.35L169 525.95L170.6 522.33L171.35 525.27L172.2 526.09L172.94 529.69L173.8 529.76L175.4 527.36L175.94 528.09L176.58 530.63L177 531.47L178.6 531.27L178.87 530.28L178.95 535.04L179.36 534.31L179.8 538.1L180 537.19L180.39 538.17L180.4 538.78L180.89 541.87L181.15 540.37L181.4 541.43L181.74 544.9L182.02 547.35L182 547.41L182.36 546.19L182.6 551L182.89 551.64L183.21 549.19L183.39 553.59L183.58 553.27L184 555.16L184.14 558.15L184.25 558.64L184.53 558.83L184.53 559.74L185.12 559.85L185.33 565.29L185.4 562.27L185.64 564.02L185.83 566.24L185.94 564.82L186.24 567.31L186.11 569.33L186.41 567.4L186.6 570.65L186.87 572.21L187.04 573.72L187.03 574.52L187.51 575.5L187.68 576.54L187.95 578.48L188 579.57L188.09 579.72L188.59 581.9L188.64 583.4L188.85 583.7L189.24 584.03L189.4 585.41L189.58 586.94L189.77 588.83L190.16 589.57L190.42 590.33L190.82 591.5L191 592.08L191.28 593.94L191.61 594.04L191.92 596.4L192.29 598.29L192.6 598.63L193.01 600.99L193.71 601.91L194.2 602.54L195.28 603.67L196.2 605.65L197.6 605.65L199 605.65L200.03 605.65L201.23 605.65L202.25 605.65L203.3 605.65L204.56 605.65L205.8 605.65L206.75 605.65L207.89 605.65L208.8 605.65L209.84 605.65L211.2 605.65L212.31 605.65L213.46 605.65L214.3 605.65L215.43 605.65L216.77 605.65L217.63 605.65L218.88 605.65L220.01 605.65L221.07 605.65L222.14 605.65L223.52 605.65L224.45 605.65L225.56 605.65L226.66 605.65L227.84 605.65L228.73 605.65L230 605.65L231 605.65L232.19 605.65L233.32 605.65L234.59 605.65L235.44 605.65L236.77 605.65L237.99 605.65L239.28 605.65L240.05 605.65L241.23 605.65L242.45 605.65L243.77 605.65L244.82 605.65L246 605.65L247.06 605.65L248.17 605.65L249.42 605.65L252.4 605.65" fill="none" stroke="#2e2e2e" stroke-width="2.0" stroke-linejoin="round" stroke-linecap="round"/>
<path d="M156 511.5H252.7V606.1" fill="none" stroke="#1a1a1a" stroke-width="1.15"/>
<path d="M156 511.5V606.1H252.7" fill="none" stroke="#111" stroke-width="1.6" stroke-linecap="square"/>
<text class="tk" x="151.5" y="514.55" font-size="7.5" text-anchor="end" >100</text>
<text class="tk" x="151.5" y="533.47" font-size="7.5" text-anchor="end" >80</text>
<text class="tk" x="151.5" y="552.39" font-size="7.5" text-anchor="end" >60</text>
<text class="tk" x="151.5" y="571.31" font-size="7.5" text-anchor="end" >40</text>
<text class="tk" x="151.5" y="590.23" font-size="7.5" text-anchor="end" >20</text>
<text class="tk" x="151.5" y="609.15" font-size="7.5" text-anchor="end" >0</text>
<path d="M156 511.5h-2.9M156 530.42h-2.9M156 549.34h-2.9M156 568.26h-2.9M156 587.18h-2.9M156 606.1h-2.9" stroke="#111" stroke-width="1.2" fill="none"/>
<path d="M156 515.28h-1.6M156 519.07h-1.6M156 522.85h-1.6M156 526.64h-1.6M156 534.2h-1.6M156 537.99h-1.6M156 541.77h-1.6M156 545.56h-1.6M156 553.12h-1.6M156 556.91h-1.6M156 560.69h-1.6M156 564.48h-1.6M156 572.04h-1.6M156 575.83h-1.6M156 579.61h-1.6M156 583.4h-1.6M156 590.96h-1.6M156 594.75h-1.6M156 598.53h-1.6M156 602.32h-1.6" stroke="#111" stroke-width="0.8" fill="none" opacity="0.8"/>
<path d="M156 606.1v2.4M180.18 606.1v2.4M204.35 606.1v2.4M228.52 606.1v2.4M252.7 606.1v2.4" stroke="#111" stroke-width="1.2" fill="none"/>
<path d="M163.28 606.1v1.5M167.53 606.1v1.5M170.55 606.1v1.5M172.9 606.1v1.5M174.81 606.1v1.5M176.43 606.1v1.5M177.83 606.1v1.5M179.07 606.1v1.5M187.45 606.1v1.5M191.71 606.1v1.5M194.73 606.1v1.5M197.07 606.1v1.5M198.99 606.1v1.5M200.61 606.1v1.5M202.01 606.1v1.5M203.24 606.1v1.5M211.63 606.1v1.5M215.88 606.1v1.5M218.9 606.1v1.5M221.25 606.1v1.5M223.16 606.1v1.5M224.78 606.1v1.5M226.18 606.1v1.5M227.42 606.1v1.5M235.8 606.1v1.5M240.06 606.1v1.5M243.08 606.1v1.5M245.42 606.1v1.5M247.34 606.1v1.5M248.96 606.1v1.5M250.36 606.1v1.5M251.59 606.1v1.5" stroke="#111" stroke-width="0.7" fill="none" opacity="0.75"/>
<text class="tk" x="151.6" y="618.8" font-size="6.6">10<tspan dy="-3.7" dx="0.9" font-size="6.6">0</tspan></text>
<text class="tk" x="175.78" y="618.8" font-size="6.6">10<tspan dy="-3.7" dx="0.9" font-size="6.6">1</tspan></text>
<text class="tk" x="199.95" y="618.8" font-size="6.6">10<tspan dy="-3.7" dx="0.9" font-size="6.6">2</tspan></text>
<text class="tk" x="224.12" y="618.8" font-size="6.6">10<tspan dy="-3.7" dx="0.9" font-size="6.6">3</tspan></text>
<text class="tk" x="247.3" y="618.8" font-size="6.6">10<tspan dy="-3.7" dx="0.9" font-size="6.6">4</tspan></text>
<path d="M284.4 573L286.6 566L288 559L289.4 553L291 547L292.6 541L294 538L295.4 539L297 536L298.6 532.6L300.2 530L303 528L304.6 525L306.6 531.4L309 528L310 533.4L311 541.4L312.2 547.4L313.4 555.4L314.6 565.4L315.8 575.4L317 587.4L318.2 596.4L319.4 602.4L321 606L321 606.1L284.4 606.1Z" fill="#dcdcdc"/>
<path d="M284.8 554.35L284.8 557.55L284.8 561.24L284.8 559.71L284.8 562.5L284.8 563.19L284.94 563.72L284.88 563.06L285 565.98L285.2 566.59L284.92 569.11L285.03 569.57L285.21 570.82L285.58 571.27L285.4 572.65L285.55 572.48L285.85 570.86L286 569.32L286.57 568.83L286.6 567.17L286.92 567.62L287.13 564.89L287.68 563.84L287.66 562.26L288 560.54L288.51 558.73L288.94 560.78L289.4 555.72L289.81 554.08L290.19 555.73L290.13 551.46L290.59 548.25L291 551.99L292.6 549.47L292.8 547.03L293.01 547.52L293.51 545.81L293.35 544.15L293.7 542.98L294 542.34L295.4 542.74L295.63 542.91L296.04 540.84L296.18 540.18L296.45 539.59L296.82 538.46L297 537.08L297.24 535.95L297.64 532.18L298.07 534.31L298.6 532.73L299.2 533.61L299.76 530.14L300.2 526.88L301.8 531.87L302.09 531.02L302.54 528.14L303 527.07L303.05 525.92L303.37 521.67L303.35 523.52L303.73 521.24L303.93 521.19L304.13 521.46L304.2 518.48L304.73 520.93L305.4 521.6L305.59 523.9L305.79 522.72L305.65 523.49L306.18 527.87L306.14 527.46L306.08 526.79L306.43 528.89L306.41 528.84L306.6 533.06L306.9 530.57L307.12 530.7L307.67 526.05L307.5 525.95L307.8 523.15L309 526.84L309.13 526.81L309.47 528.24L309.68 529.23L309.69 529.98L309.84 531.74L310 530.9L310.13 533.29L310.21 535.44L310.43 536.42L310.69 534.26L310.79 536.96L310.75 538.99L311 539.65L311.18 541.18L311.59 543.73L311.75 543.7L312.25 543.79L312.2 545.22L312.33 546.17L312.38 549.24L312.77 550.53L313.01 551.69L313.13 552.87L313.46 555.44L313.4 554.76L313.62 556.67L313.52 556.84L313.88 558.85L313.89 560.49L314.1 560.04L314.03 562.58L314.4 561.27L314.4 563.54L314.6 563.99L314.74 564.97L314.92 567.58L315.13 569.35L315.22 569.51L315.5 570.44L315.35 571.66L315.47 573.21L315.66 574.93L315.8 575.32L315.88 575.9L315.99 578L316.28 578.82L316.19 578.56L316.21 580.35L316.47 581.8L316.83 582.9L316.6 584.06L316.74 583.97L317 587.08L317.18 588.26L317.03 589.31L317.21 590.91L317.47 591.83L317.73 591.33L317.77 593.74L318.17 594.7L318.2 595.54L318.34 597.07L318.66 598.04L318.79 600.22L319.01 600.54L319.4 601.66L320.2 603.12L321 605.65L322.52 605.65L324 605.65L325.17 605.65L326.14 605.65L327.53 605.65L328.48 605.65L329.86 605.65L330.97 605.65L331.96 605.65L333.03 605.65L334.25 605.65L335.33 605.65L336.5 605.65L337.7 605.65L338.46 605.65L339.97 605.65L341.15 605.65L342.11 605.65L343.43 605.65L344.33 605.65L345.48 605.65L346.3 605.65L347.77 605.65L348.69 605.65L350.06 605.65L350.99 605.65L352.15 605.65L353.28 605.65L354.29 605.65L355.68 605.65L356.67 605.65L357.69 605.65L359 605.65L360.21 605.65L361.49 605.65L362.21 605.65L363.73 605.65L365.05 605.65L365.75 605.65L367.27 605.65L368.17 605.65L369.56 605.65L370.48 605.65L371.6 605.65L372.9 605.65L373.82 605.65L375 605.65L376.45 605.65L377.25 605.65L380.2 605.65" fill="none" stroke="#2e2e2e" stroke-width="2.0" stroke-linejoin="round" stroke-linecap="round"/>
<path d="M283.8 511.5H380.5V606.1" fill="none" stroke="#1a1a1a" stroke-width="1.15"/>
<path d="M283.8 511.5V606.1H380.5" fill="none" stroke="#111" stroke-width="1.6" stroke-linecap="square"/>
<text class="tk" x="279.3" y="514.55" font-size="7.5" text-anchor="end" >100</text>
<text class="tk" x="279.3" y="533.47" font-size="7.5" text-anchor="end" >80</text>
<text class="tk" x="279.3" y="552.39" font-size="7.5" text-anchor="end" >60</text>
<text class="tk" x="279.3" y="571.31" font-size="7.5" text-anchor="end" >40</text>
<text class="tk" x="279.3" y="590.23" font-size="7.5" text-anchor="end" >20</text>
<text class="tk" x="279.3" y="609.15" font-size="7.5" text-anchor="end" >0</text>
<path d="M283.8 511.5h-2.9M283.8 530.42h-2.9M283.8 549.34h-2.9M283.8 568.26h-2.9M283.8 587.18h-2.9M283.8 606.1h-2.9" stroke="#111" stroke-width="1.2" fill="none"/>
<path d="M283.8 515.28h-1.6M283.8 519.07h-1.6M283.8 522.85h-1.6M283.8 526.64h-1.6M283.8 534.2h-1.6M283.8 537.99h-1.6M283.8 541.77h-1.6M283.8 545.56h-1.6M283.8 553.12h-1.6M283.8 556.91h-1.6M283.8 560.69h-1.6M283.8 564.48h-1.6M283.8 572.04h-1.6M283.8 575.83h-1.6M283.8 579.61h-1.6M283.8 583.4h-1.6M283.8 590.96h-1.6M283.8 594.75h-1.6M283.8 598.53h-1.6M283.8 602.32h-1.6" stroke="#111" stroke-width="0.8" fill="none" opacity="0.8"/>
<path d="M283.8 606.1v2.4M307.98 606.1v2.4M332.15 606.1v2.4M356.32 606.1v2.4M380.5 606.1v2.4" stroke="#111" stroke-width="1.2" fill="none"/>
<path d="M291.08 606.1v1.5M295.33 606.1v1.5M298.35 606.1v1.5M300.7 606.1v1.5M302.61 606.1v1.5M304.23 606.1v1.5M305.63 606.1v1.5M306.87 606.1v1.5M315.25 606.1v1.5M319.51 606.1v1.5M322.53 606.1v1.5M324.87 606.1v1.5M326.79 606.1v1.5M328.41 606.1v1.5M329.81 606.1v1.5M331.04 606.1v1.5M339.43 606.1v1.5M343.68 606.1v1.5M346.7 606.1v1.5M349.05 606.1v1.5M350.96 606.1v1.5M352.58 606.1v1.5M353.98 606.1v1.5M355.22 606.1v1.5M363.6 606.1v1.5M367.86 606.1v1.5M370.88 606.1v1.5M373.22 606.1v1.5M375.14 606.1v1.5M376.76 606.1v1.5M378.16 606.1v1.5M379.39 606.1v1.5" stroke="#111" stroke-width="0.7" fill="none" opacity="0.75"/>
<text class="tk" x="279.4" y="618.8" font-size="6.6">10<tspan dy="-3.7" dx="0.9" font-size="6.6">0</tspan></text>
<text class="tk" x="303.58" y="618.8" font-size="6.6">10<tspan dy="-3.7" dx="0.9" font-size="6.6">1</tspan></text>
<text class="tk" x="327.75" y="618.8" font-size="6.6">10<tspan dy="-3.7" dx="0.9" font-size="6.6">2</tspan></text>
<text class="tk" x="351.93" y="618.8" font-size="6.6">10<tspan dy="-3.7" dx="0.9" font-size="6.6">3</tspan></text>
<text class="tk" x="375.1" y="618.8" font-size="6.6">10<tspan dy="-3.7" dx="0.9" font-size="6.6">4</tspan></text>
<path d="M411.4 555L413 537L414.4 535L415.6 547L416.8 543L418 547L419.2 544L420.4 537L422.8 532L425.2 532L426.4 525L427.6 526L428.8 537L431.2 530L432.4 541L433.6 539L434.8 546L436 547L437.2 554L439.2 555L440.4 566L441.6 572L443 578.6L444.4 583.6L446 590.6L447.6 596.6L449.2 600.6L451.2 606L451.2 606.1L411.4 606.1Z" fill="#dcdcdc"/>
<path d="M412.6 514.77L412.6 516.72L412.6 517.1L412.6 519.11L412.6 519.02L412.6 520.27L412.6 522.56L412.6 521.53L412.6 526.19L412.6 525.02L412.6 529.46L412.6 525.93L412.6 528.1L412.6 527.96L412.6 527.8L412.6 531.2L412.6 531.26L412.6 533.51L412.6 533.84L412.6 532.76L412.6 539.02L412.6 539.44L412.6 539.2L412.6 540.93L412.6 542.92L412.6 544.05L412.6 542.56L412.6 545.02L412.6 546.64L412.62 549.5L412.6 548.7L412.77 548.56L412.77 550.67L412.89 551.84L412.81 550.95L412.8 554.1L413 556.14L413.34 556.26L413.41 558.01L413.92 560.88L413.73 558.13L414.4 559.62L414.58 559.17L414.59 557.43L414.83 557.48L415.28 556.42L415.09 554.69L415.52 554.09L415.6 553.32L415.49 551.23L415.52 549.89L415.93 549.56L416.06 548.44L415.98 550.4L416.4 545.48L416.46 545.73L416.61 544.86L416.74 542.19L416.8 543.93L416.74 544.19L417.09 544.41L417.07 546.58L417.57 546.1L417.51 546.76L417.75 547.91L417.86 549.94L418 551.15L418.12 549.06L418.28 550.27L418.49 546.38L418.75 546.3L418.88 547.39L418.97 544.5L419.2 543.12L419.32 542.63L419.47 540.79L419.6 538.56L419.86 539.1L419.96 539.55L420.41 536.42L420.4 533.9L420.69 536.89L421.29 539.7L421.6 539.07L421.52 538.42L421.97 536.52L421.95 535.73L422.02 535.75L422.27 534.5L422.34 532.06L422.59 530.78L422.7 532.03L422.8 529.14L422.95 528.91L423.17 530.82L423.02 532.78L423.39 532.79L423.32 535.6L423.36 536.17L423.4 538.39L423.89 538.85L423.98 540.44L424 542.95L423.87 538.99L424.41 538.83L424.44 539.38L424.56 534.41L424.57 535.44L424.72 536.28L425.02 533.39L425.28 529.79L425.2 530.19L425.37 531.03L425.49 528.37L425.43 527.65L425.75 526.26L425.76 524.83L425.81 524.78L426.12 525.4L425.98 523.06L426.32 520.6L426.4 523.28L427.6 519.4L427.64 522.23L427.75 523.91L427.87 525.36L427.85 525.28L428.1 526.08L428.05 528.03L427.94 527.61L428.3 528.54L428.25 531.05L428.07 534.7L428.52 535.58L428.39 532.98L428.45 535.81L428.68 534.72L428.72 537.87L428.8 538.11L429.08 539.14L429.35 533.52L429.76 534.69L429.99 535.16L430 534.34L430.22 532.05L430.61 531.59L430.74 529.15L431.04 530.55L431.2 525.71L431.14 527.16L431.35 528.88L431.46 530.53L431.53 533.17L431.67 533.73L431.77 533.92L431.67 534.55L431.8 536.64L431.96 536.65L432 537.53L432.2 542.86L432.24 539.93L432.11 543.73L432.4 543L432.66 541.08L433.16 541.37L433.2 539.86L433.6 540.2L433.63 539.76L434.09 541.27L434.06 543.22L434.21 543.02L434.48 543.33L434.58 544.77L434.56 544.77L434.8 545.86L435.47 547.62L436 550.42L436.37 548.9L436.64 551.25L436.77 554.22L436.85 557.28L437.2 554.54L437.35 556.48L437.47 558.07L437.64 556.74L437.76 561.02L437.66 562.36L438.03 561.25L438.06 562.58L438.48 561.99L438.4 564.84L438.28 564.32L438.66 563.76L438.64 562.15L438.59 562.26L438.57 560.83L438.66 558.03L439.01 557.49L438.8 555.27L439.18 553.45L439.2 551.74L439.46 556.6L439.47 554.74L439.57 556.2L439.71 557.48L439.95 558.13L440.01 561.54L440.08 562.14L440.19 563.59L440.1 564.24L440.3 565.75L440.4 566.5L440.85 568.21L440.96 569.19L441.19 570.43L441.12 572.04L441.6 574.73L441.95 573.51L441.96 576.45L442.41 577.85L442.87 577.46L443 579L443.5 579.44L443.64 581.54L444.07 582.78L444.4 583.95L444.63 584.64L444.92 586.54L445.13 587.32L445.56 589.29L445.66 590.21L446 591L446.45 592.14L446.33 592.91L446.95 594.94L447.46 595.89L447.6 597.26L448.02 598.07L448.67 599.67L449.2 601.27L449.87 602.27L450.34 602.82L451.2 605.65L452.46 605.65L454 605.65L455.04 605.65L456.42 605.65L457.51 605.65L458.45 605.65L459.46 605.65L460.67 605.65L462.01 605.65L462.76 605.65L463.96 605.65L465.04 605.65L466.2 605.65L467.06 605.65L468.2 605.65L469.35 605.65L470.65 605.65L471.7 605.65L472.76 605.65L473.98 605.65L474.94 605.65L475.96 605.65L477.21 605.65L478.21 605.65L479.13 605.65L480.75 605.65L481.7 605.65L482.62 605.65L483.87 605.65L484.94 605.65L486 605.65L487.17 605.65L488.34 605.65L489.57 605.65L490.64 605.65L491.69 605.65L493.07 605.65L494.05 605.65L495.06 605.65L496.29 605.65L497.72 605.65L498.62 605.65L499.72 605.65L501.07 605.65L501.79 605.65L503.3 605.65L504.38 605.65L507.8 605.65" fill="none" stroke="#2e2e2e" stroke-width="2.0" stroke-linejoin="round" stroke-linecap="round"/>
<path d="M411.6 511.5H508.1V606.1" fill="none" stroke="#1a1a1a" stroke-width="1.15"/>
<path d="M411.6 511.5V606.1H508.1" fill="none" stroke="#111" stroke-width="1.6" stroke-linecap="square"/>
<text class="tk" x="407.1" y="514.55" font-size="7.5" text-anchor="end" >100</text>
<text class="tk" x="407.1" y="533.47" font-size="7.5" text-anchor="end" >80</text>
<text class="tk" x="407.1" y="552.39" font-size="7.5" text-anchor="end" >60</text>
<text class="tk" x="407.1" y="571.31" font-size="7.5" text-anchor="end" >40</text>
<text class="tk" x="407.1" y="590.23" font-size="7.5" text-anchor="end" >20</text>
<text class="tk" x="407.1" y="609.15" font-size="7.5" text-anchor="end" >0</text>
<path d="M411.6 511.5h-2.9M411.6 530.42h-2.9M411.6 549.34h-2.9M411.6 568.26h-2.9M411.6 587.18h-2.9M411.6 606.1h-2.9" stroke="#111" stroke-width="1.2" fill="none"/>
<path d="M411.6 515.28h-1.6M411.6 519.07h-1.6M411.6 522.85h-1.6M411.6 526.64h-1.6M411.6 534.2h-1.6M411.6 537.99h-1.6M411.6 541.77h-1.6M411.6 545.56h-1.6M411.6 553.12h-1.6M411.6 556.91h-1.6M411.6 560.69h-1.6M411.6 564.48h-1.6M411.6 572.04h-1.6M411.6 575.83h-1.6M411.6 579.61h-1.6M411.6 583.4h-1.6M411.6 590.96h-1.6M411.6 594.75h-1.6M411.6 598.53h-1.6M411.6 602.32h-1.6" stroke="#111" stroke-width="0.8" fill="none" opacity="0.8"/>
<path d="M411.6 606.1v2.4M435.73 606.1v2.4M459.85 606.1v2.4M483.98 606.1v2.4M508.1 606.1v2.4" stroke="#111" stroke-width="1.2" fill="none"/>
<path d="M418.86 606.1v1.5M423.11 606.1v1.5M426.12 606.1v1.5M428.46 606.1v1.5M430.37 606.1v1.5M431.99 606.1v1.5M433.39 606.1v1.5M434.62 606.1v1.5M442.99 606.1v1.5M447.24 606.1v1.5M450.25 606.1v1.5M452.59 606.1v1.5M454.5 606.1v1.5M456.11 606.1v1.5M457.51 606.1v1.5M458.75 606.1v1.5M467.11 606.1v1.5M471.36 606.1v1.5M474.37 606.1v1.5M476.71 606.1v1.5M478.62 606.1v1.5M480.24 606.1v1.5M481.64 606.1v1.5M482.87 606.1v1.5M491.24 606.1v1.5M495.49 606.1v1.5M498.5 606.1v1.5M500.84 606.1v1.5M502.75 606.1v1.5M504.36 606.1v1.5M505.76 606.1v1.5M507 606.1v1.5" stroke="#111" stroke-width="0.7" fill="none" opacity="0.75"/>
<text class="tk" x="407.2" y="618.8" font-size="6.6">10<tspan dy="-3.7" dx="0.9" font-size="6.6">0</tspan></text>
<text class="tk" x="431.33" y="618.8" font-size="6.6">10<tspan dy="-3.7" dx="0.9" font-size="6.6">1</tspan></text>
<text class="tk" x="455.45" y="618.8" font-size="6.6">10<tspan dy="-3.7" dx="0.9" font-size="6.6">2</tspan></text>
<text class="tk" x="479.58" y="618.8" font-size="6.6">10<tspan dy="-3.7" dx="0.9" font-size="6.6">3</tspan></text>
<text class="tk" x="502.7" y="618.8" font-size="6.6">10<tspan dy="-3.7" dx="0.9" font-size="6.6">4</tspan></text>
<text x="118.2" y="528.4" font-size="12.4" text-anchor="end">DN</text>
<text x="245.6" y="528.6" font-size="12.4" text-anchor="end">DP</text>
<text x="373.6" y="528.6" font-size="12.4" text-anchor="end">CD4SP</text>
<text x="501.2" y="528.6" font-size="12.4" text-anchor="end">CD8SP</text>
<path d="M407 264.5H428.8" stroke="#000" stroke-width="1.8"/>
<rect x="407" y="280.2" width="21.6" height="9.6" fill="#d0d0d0"/>
<text x="437.2" y="268" font-size="12.9">Anti-Tmtsp</text>
<text x="437.4" y="288.9" font-size="12.9">Isotype control</text>
<path d="M437 441V382M434.4 438.3H493" stroke="#000" stroke-width="2" fill="none"/>
<path d="M437 372.6L433.3 384.5H440.7ZM502.6 438.3L490.7 434.6V442Z" fill="#000"/>
<text transform="translate(412.2 409.8) rotate(-90)" font-size="12.7" text-anchor="middle">Relative</text>
<text transform="translate(428 408.8) rotate(-90)" font-size="12.4" text-anchor="middle">cell number</text>
<text x="429.8" y="457.5" font-size="12.8">Fluorescence</text>
</g>
</svg>
</body></html>
